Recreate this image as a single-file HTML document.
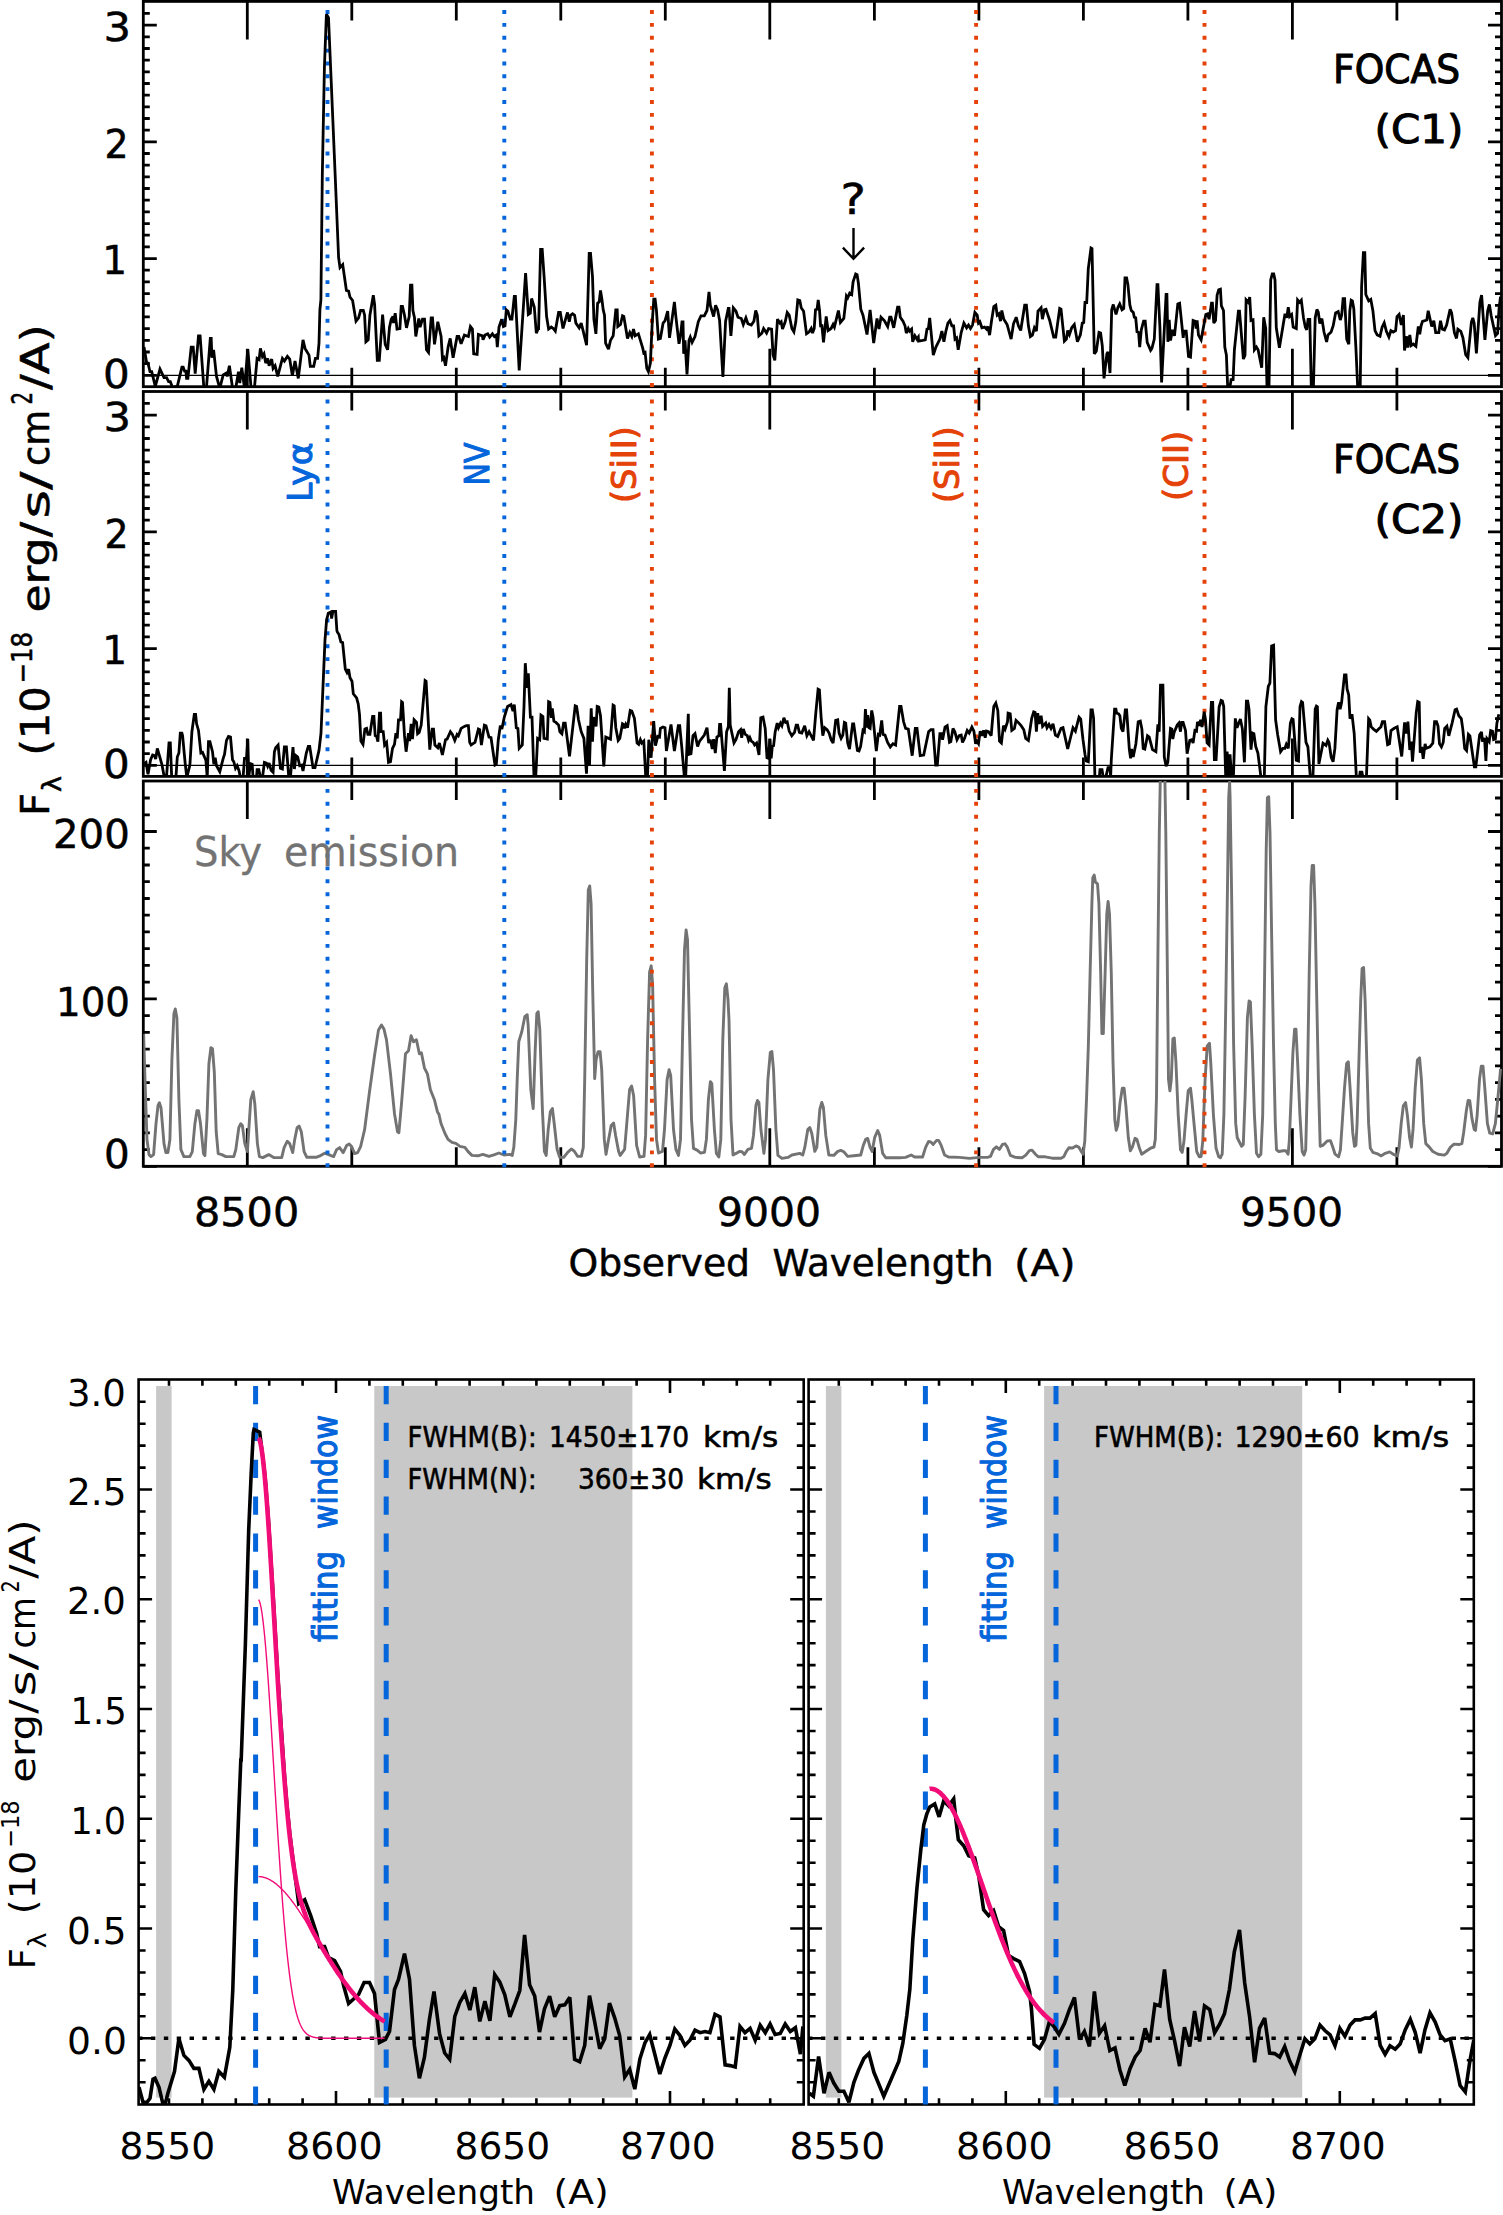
<!DOCTYPE html><html><head><meta charset="utf-8"><title>FOCAS spectra</title><style>html,body{margin:0;padding:0;background:#fff}svg{display:block}</style></head><body><svg width="1503" height="2215" viewBox="0 0 1503 2215" font-family="'DejaVu Sans','Liberation Sans',sans-serif">
<rect width="1503" height="2215" fill="#fff"/>
<defs>
<clipPath id="c0"><rect x="143.3" y="1.4" width="1360.2" height="385.3"/></clipPath>
<clipPath id="c1"><rect x="143.3" y="391.5" width="1360.2" height="384.9"/></clipPath>
<clipPath id="c2"><rect x="143.3" y="781.0" width="1360.2" height="385.3"/></clipPath>
<clipPath id="d0"><rect x="138.6" y="1379.5" width="665.1" height="725.0"/></clipPath>
<clipPath id="d1"><rect x="808.6" y="1379.5" width="665.2" height="725.0"/></clipPath>
</defs>
<rect x="143.3" y="1.4" width="1358.2" height="385.3" fill="none" stroke="#000" stroke-width="2.8"/>
<rect x="143.3" y="391.5" width="1358.2" height="384.9" fill="none" stroke="#000" stroke-width="2.8"/>
<rect x="143.3" y="781.0" width="1358.2" height="385.3" fill="none" stroke="#000" stroke-width="2.8"/>
<path d="M247.3 1.4L247.3 39.4M247.3 386.7L247.3 348.7M351.8 1.4L351.8 20.4M351.8 386.7L351.8 367.7M456.3 1.4L456.3 20.4M456.3 386.7L456.3 367.7M560.8 1.4L560.8 20.4M560.8 386.7L560.8 367.7M665.3 1.4L665.3 20.4M665.3 386.7L665.3 367.7M769.8 1.4L769.8 39.4M769.8 386.7L769.8 348.7M874.4 1.4L874.4 20.4M874.4 386.7L874.4 367.7M978.9 1.4L978.9 20.4M978.9 386.7L978.9 367.7M1083.4 1.4L1083.4 20.4M1083.4 386.7L1083.4 367.7M1187.9 1.4L1187.9 20.4M1187.9 386.7L1187.9 367.7M1292.4 1.4L1292.4 39.4M1292.4 386.7L1292.4 348.7M1396.9 1.4L1396.9 20.4M1396.9 386.7L1396.9 367.7M143.3 375.3L156.8 375.3M1501.5 375.3L1488.0 375.3M143.3 363.6L149.8 363.6M1501.5 363.6L1495.0 363.6M143.3 352.0L149.8 352.0M1501.5 352.0L1495.0 352.0M143.3 340.3L149.8 340.3M1501.5 340.3L1495.0 340.3M143.3 328.6L149.8 328.6M1501.5 328.6L1495.0 328.6M143.3 316.9L149.8 316.9M1501.5 316.9L1495.0 316.9M143.3 305.3L149.8 305.3M1501.5 305.3L1495.0 305.3M143.3 293.6L149.8 293.6M1501.5 293.6L1495.0 293.6M143.3 281.9L149.8 281.9M1501.5 281.9L1495.0 281.9M143.3 270.2L149.8 270.2M1501.5 270.2L1495.0 270.2M143.3 258.6L156.8 258.6M1501.5 258.6L1488.0 258.6M143.3 246.9L149.8 246.9M1501.5 246.9L1495.0 246.9M143.3 235.2L149.8 235.2M1501.5 235.2L1495.0 235.2M143.3 223.6L149.8 223.6M1501.5 223.6L1495.0 223.6M143.3 211.9L149.8 211.9M1501.5 211.9L1495.0 211.9M143.3 200.2L149.8 200.2M1501.5 200.2L1495.0 200.2M143.3 188.5L149.8 188.5M1501.5 188.5L1495.0 188.5M143.3 176.9L149.8 176.9M1501.5 176.9L1495.0 176.9M143.3 165.2L149.8 165.2M1501.5 165.2L1495.0 165.2M143.3 153.5L149.8 153.5M1501.5 153.5L1495.0 153.5M143.3 141.8L156.8 141.8M1501.5 141.8L1488.0 141.8M143.3 130.2L149.8 130.2M1501.5 130.2L1495.0 130.2M143.3 118.5L149.8 118.5M1501.5 118.5L1495.0 118.5M143.3 106.8L149.8 106.8M1501.5 106.8L1495.0 106.8M143.3 95.1L149.8 95.1M1501.5 95.1L1495.0 95.1M143.3 83.5L149.8 83.5M1501.5 83.5L1495.0 83.5M143.3 71.8L149.8 71.8M1501.5 71.8L1495.0 71.8M143.3 60.1L149.8 60.1M1501.5 60.1L1495.0 60.1M143.3 48.5L149.8 48.5M1501.5 48.5L1495.0 48.5M143.3 36.8L149.8 36.8M1501.5 36.8L1495.0 36.8M143.3 25.1L156.8 25.1M1501.5 25.1L1488.0 25.1M143.3 13.4L149.8 13.4M1501.5 13.4L1495.0 13.4M247.3 391.5L247.3 429.5M247.3 776.4L247.3 738.4M351.8 391.5L351.8 410.5M351.8 776.4L351.8 757.4M456.3 391.5L456.3 410.5M456.3 776.4L456.3 757.4M560.8 391.5L560.8 410.5M560.8 776.4L560.8 757.4M665.3 391.5L665.3 410.5M665.3 776.4L665.3 757.4M769.8 391.5L769.8 429.5M769.8 776.4L769.8 738.4M874.4 391.5L874.4 410.5M874.4 776.4L874.4 757.4M978.9 391.5L978.9 410.5M978.9 776.4L978.9 757.4M1083.4 391.5L1083.4 410.5M1083.4 776.4L1083.4 757.4M1187.9 391.5L1187.9 410.5M1187.9 776.4L1187.9 757.4M1292.4 391.5L1292.4 429.5M1292.4 776.4L1292.4 738.4M1396.9 391.5L1396.9 410.5M1396.9 776.4L1396.9 757.4M143.3 765.3L156.8 765.3M1501.5 765.3L1488.0 765.3M143.3 753.6L149.8 753.6M1501.5 753.6L1495.0 753.6M143.3 742.0L149.8 742.0M1501.5 742.0L1495.0 742.0M143.3 730.3L149.8 730.3M1501.5 730.3L1495.0 730.3M143.3 718.6L149.8 718.6M1501.5 718.6L1495.0 718.6M143.3 706.9L149.8 706.9M1501.5 706.9L1495.0 706.9M143.3 695.3L149.8 695.3M1501.5 695.3L1495.0 695.3M143.3 683.6L149.8 683.6M1501.5 683.6L1495.0 683.6M143.3 671.9L149.8 671.9M1501.5 671.9L1495.0 671.9M143.3 660.2L149.8 660.2M1501.5 660.2L1495.0 660.2M143.3 648.6L156.8 648.6M1501.5 648.6L1488.0 648.6M143.3 636.9L149.8 636.9M1501.5 636.9L1495.0 636.9M143.3 625.2L149.8 625.2M1501.5 625.2L1495.0 625.2M143.3 613.6L149.8 613.6M1501.5 613.6L1495.0 613.6M143.3 601.9L149.8 601.9M1501.5 601.9L1495.0 601.9M143.3 590.2L149.8 590.2M1501.5 590.2L1495.0 590.2M143.3 578.5L149.8 578.5M1501.5 578.5L1495.0 578.5M143.3 566.9L149.8 566.9M1501.5 566.9L1495.0 566.9M143.3 555.2L149.8 555.2M1501.5 555.2L1495.0 555.2M143.3 543.5L149.8 543.5M1501.5 543.5L1495.0 543.5M143.3 531.8L156.8 531.8M1501.5 531.8L1488.0 531.8M143.3 520.2L149.8 520.2M1501.5 520.2L1495.0 520.2M143.3 508.5L149.8 508.5M1501.5 508.5L1495.0 508.5M143.3 496.8L149.8 496.8M1501.5 496.8L1495.0 496.8M143.3 485.1L149.8 485.1M1501.5 485.1L1495.0 485.1M143.3 473.5L149.8 473.5M1501.5 473.5L1495.0 473.5M143.3 461.8L149.8 461.8M1501.5 461.8L1495.0 461.8M143.3 450.1L149.8 450.1M1501.5 450.1L1495.0 450.1M143.3 438.5L149.8 438.5M1501.5 438.5L1495.0 438.5M143.3 426.8L149.8 426.8M1501.5 426.8L1495.0 426.8M143.3 415.1L156.8 415.1M1501.5 415.1L1488.0 415.1M143.3 403.4L149.8 403.4M1501.5 403.4L1495.0 403.4M247.3 781.0L247.3 819.0M247.3 1166.3L247.3 1128.3M351.8 781.0L351.8 800.0M351.8 1166.3L351.8 1147.3M456.3 781.0L456.3 800.0M456.3 1166.3L456.3 1147.3M560.8 781.0L560.8 800.0M560.8 1166.3L560.8 1147.3M665.3 781.0L665.3 800.0M665.3 1166.3L665.3 1147.3M769.8 781.0L769.8 819.0M769.8 1166.3L769.8 1128.3M874.4 781.0L874.4 800.0M874.4 1166.3L874.4 1147.3M978.9 781.0L978.9 800.0M978.9 1166.3L978.9 1147.3M1083.4 781.0L1083.4 800.0M1083.4 1166.3L1083.4 1147.3M1187.9 781.0L1187.9 800.0M1187.9 1166.3L1187.9 1147.3M1292.4 781.0L1292.4 819.0M1292.4 1166.3L1292.4 1128.3M1396.9 781.0L1396.9 800.0M1396.9 1166.3L1396.9 1147.3M143.3 1166.3L156.8 1166.3M1501.5 1166.3L1488.0 1166.3M143.3 1149.6L149.8 1149.6M1501.5 1149.6L1495.0 1149.6M143.3 1132.8L149.8 1132.8M1501.5 1132.8L1495.0 1132.8M143.3 1116.1L149.8 1116.1M1501.5 1116.1L1495.0 1116.1M143.3 1099.3L149.8 1099.3M1501.5 1099.3L1495.0 1099.3M143.3 1082.6L149.8 1082.6M1501.5 1082.6L1495.0 1082.6M143.3 1065.9L149.8 1065.9M1501.5 1065.9L1495.0 1065.9M143.3 1049.1L149.8 1049.1M1501.5 1049.1L1495.0 1049.1M143.3 1032.4L149.8 1032.4M1501.5 1032.4L1495.0 1032.4M143.3 1015.6L149.8 1015.6M1501.5 1015.6L1495.0 1015.6M143.3 998.9L156.8 998.9M1501.5 998.9L1488.0 998.9M143.3 982.2L149.8 982.2M1501.5 982.2L1495.0 982.2M143.3 965.4L149.8 965.4M1501.5 965.4L1495.0 965.4M143.3 948.7L149.8 948.7M1501.5 948.7L1495.0 948.7M143.3 931.9L149.8 931.9M1501.5 931.9L1495.0 931.9M143.3 915.2L149.8 915.2M1501.5 915.2L1495.0 915.2M143.3 898.5L149.8 898.5M1501.5 898.5L1495.0 898.5M143.3 881.7L149.8 881.7M1501.5 881.7L1495.0 881.7M143.3 865.0L149.8 865.0M1501.5 865.0L1495.0 865.0M143.3 848.2L149.8 848.2M1501.5 848.2L1495.0 848.2M143.3 831.5L156.8 831.5M1501.5 831.5L1488.0 831.5M143.3 814.8L149.8 814.8M1501.5 814.8L1495.0 814.8M143.3 798.0L149.8 798.0M1501.5 798.0L1495.0 798.0" stroke="#000" stroke-width="2.8" fill="none"/>
<path d="M143.3 375.4H1501.5M143.3 765.4H1501.5" stroke="#000" stroke-width="1.2"/>
<line x1="327.5" y1="386.95" x2="327.5" y2="10.04" stroke="#0565db" stroke-width="3.9" stroke-dasharray="3.9 8.962"/>
<line x1="504.3" y1="386.95" x2="504.3" y2="10.04" stroke="#0565db" stroke-width="3.9" stroke-dasharray="3.9 8.962"/>
<line x1="651.9" y1="386.95" x2="651.9" y2="10.04" stroke="#e44208" stroke-width="3.9" stroke-dasharray="3.9 8.962"/>
<line x1="976.1" y1="386.95" x2="976.1" y2="10.04" stroke="#e44208" stroke-width="3.9" stroke-dasharray="3.9 8.962"/>
<line x1="1204.5" y1="386.95" x2="1204.5" y2="10.04" stroke="#e44208" stroke-width="3.9" stroke-dasharray="3.9 8.962"/>
<line x1="327.5" y1="776.95" x2="327.5" y2="399.52" stroke="#0565db" stroke-width="3.9" stroke-dasharray="3.9 8.980"/>
<line x1="504.3" y1="776.95" x2="504.3" y2="399.52" stroke="#0565db" stroke-width="3.9" stroke-dasharray="3.9 8.980"/>
<line x1="651.9" y1="776.95" x2="651.9" y2="399.52" stroke="#e44208" stroke-width="3.9" stroke-dasharray="3.9 8.980"/>
<line x1="976.1" y1="776.95" x2="976.1" y2="399.52" stroke="#e44208" stroke-width="3.9" stroke-dasharray="3.9 8.980"/>
<line x1="1204.5" y1="776.95" x2="1204.5" y2="399.52" stroke="#e44208" stroke-width="3.9" stroke-dasharray="3.9 8.980"/>
<polyline clip-path="url(#c0)" points="144.0,347.1 146.7,363.1 148.0,363.1 150.0,371.7 151.7,371.7 155.3,386.4 160.0,369.1 164.0,377.7 166.6,377.7 168.6,381.7 170.3,381.7 172.6,387.7 177.3,386.4 181.9,367.1 183.2,367.1 184.6,371.1 185.9,371.1 186.6,378.4 187.9,378.4 191.2,347.1 193.2,347.1 195.2,373.7 198.5,335.8 200.1,335.8 203.9,388.3 206.5,387.0 210.3,338.4 211.2,338.4 211.9,357.7 213.6,349.8 216.5,376.4 219.8,388.3 223.2,375.0 226.5,373.0 227.2,376.4 229.4,365.7 232.5,387.7 235.8,387.7 238.5,371.7 239.8,383.0 241.8,367.7 244.5,388.3 247.8,349.1 251.1,388.3 254.4,388.3 257.1,358.4 259.1,359.7 260.4,348.4 262.4,356.4 264.0,353.8 265.7,363.1 267.7,358.4 269.1,365.7 271.7,359.1 273.1,368.4 275.1,365.7 277.7,376.4 282.4,358.4 284.4,361.1 287.4,356.4 289.7,359.1 292.4,375.7 295.0,361.1 298.3,378.4 303.0,339.8 305.0,348.4 309.0,355.1 310.3,366.4 313.7,366.4 315.4,358.4 317.6,358.4 319.0,343.1 319.9,309.8 320.9,300.0 322.3,176.0 324.4,67.8 326.4,14.2 328.5,17.6 331.2,81.3 335.2,176.0 338.6,257.5 340.0,267.6 342.7,264.6 346.4,290.5 348.6,291.2 350.0,297.2 352.6,300.5 356.0,321.2 358.6,317.8 360.6,310.5 363.3,310.5 364.6,315.2 365.9,341.8 368.2,339.8 369.9,315.2 373.3,295.2 374.6,304.5 377.3,360.4 379.3,360.4 382.6,314.5 385.2,344.4 387.6,349.8 389.5,327.1 391.2,319.2 393.0,316.5 393.5,323.1 395.2,313.2 397.0,329.1 399.9,328.5 401.2,306.5 402.5,306.5 404.5,315.2 406.5,327.8 409.2,316.5 410.5,285.2 411.9,285.2 412.9,310.5 414.5,317.8 415.8,336.5 418.8,318.5 420.1,327.1 422.5,319.2 424.5,319.2 426.5,349.8 428.5,352.4 431.2,317.8 432.5,317.8 434.5,344.4 437.8,321.8 441.1,336.5 442.5,359.1 443.8,357.7 445.5,365.7 448.1,347.1 450.2,338.4 453.1,357.7 457.1,336.5 458.8,336.5 461.1,343.8 464.4,335.1 468.4,336.5 470.4,326.5 472.4,329.1 473.7,353.8 477.1,354.4 478.4,334.5 482.4,335.8 483.0,339.8 485.0,335.1 487.7,333.8 489.7,337.1 492.4,333.8 494.4,336.5 496.4,335.1 497.3,347.1 499.0,327.1 501.7,319.2 503.4,326.5 505.0,325.8 506.3,309.8 507.9,311.2 510.3,319.2 511.9,319.2 514.3,296.5 515.4,296.5 519.2,370.4 525.6,273.2 528.3,314.5 530.3,313.2 531.6,298.5 534.3,307.2 536.3,333.1 538.3,328.5 538.6,328.5 540.6,249.3 542.2,249.3 544.0,275.2 546.6,316.5 548.6,329.1 551.3,327.1 553.3,328.5 555.3,331.1 558.6,312.5 560.3,312.5 563.0,328.5 565.9,317.8 567.5,312.5 569.3,321.8 570.6,315.2 572.6,313.8 574.6,315.2 575.9,323.1 579.2,327.8 581.2,323.1 583.2,331.1 586.6,345.1 589.2,253.3 590.5,253.3 592.5,276.6 593.9,319.2 595.9,333.8 597.6,303.2 599.2,301.9 600.5,290.5 601.9,299.2 603.2,309.8 604.5,315.2 605.6,343.1 608.5,349.1 610.5,340.4 613.2,335.8 615.8,309.8 617.2,309.8 617.8,326.5 620.5,324.5 622.5,315.8 623.8,316.5 627.5,338.4 629.8,332.5 631.8,336.5 633.5,329.1 635.1,335.8 638.4,333.8 640.4,340.4 642.8,348.4 643.8,353.1 645.1,352.4 646.8,368.4 648.4,371.7 650.4,363.1 652.2,323.1 653.8,299.2 655.1,299.2 656.4,309.8 658.4,339.1 660.4,338.4 663.1,323.1 665.1,320.5 667.7,311.2 669.5,337.8 674.4,301.9 675.7,315.2 679.0,343.8 680.4,336.5 682.0,321.8 683.0,321.8 683.7,353.8 685.0,340.4 687.0,374.4 689.0,340.4 690.3,337.1 692.1,342.4 695.0,336.5 698.3,321.8 701.0,315.8 704.3,315.8 707.0,310.5 709.0,291.9 710.3,305.2 713.6,316.5 715.6,305.2 717.6,309.8 719.6,320.5 722.9,377.0 725.6,321.2 728.3,308.5 729.0,308.5 730.9,335.8 733.3,307.8 736.0,311.2 738.0,317.2 741.3,318.5 743.3,324.5 745.9,317.8 747.9,323.8 751.3,325.1 753.9,321.2 755.7,310.5 757.3,315.2 758.9,335.8 761.9,333.1 763.6,328.5 766.6,333.1 768.6,328.5 771.6,329.1 773.0,354.4 774.8,360.4 777.5,319.2 779.9,323.1 781.2,321.8 782.5,329.1 785.2,321.8 787.2,312.5 789.2,315.2 791.9,328.5 793.9,331.8 795.8,321.8 797.8,299.9 799.8,300.5 801.2,307.8 803.6,311.2 806.5,333.8 809.2,331.8 811.2,328.5 812.5,333.1 814.2,328.5 815.5,309.8 817.1,309.2 818.2,299.9 819.5,309.8 820.7,327.1 821.8,324.5 823.5,342.4 826.2,316.5 828.1,330.5 831.1,328.5 833.1,324.5 834.4,327.1 838.4,310.5 840.4,322.5 843.8,318.5 846.4,295.9 847.7,297.9 849.7,293.2 851.7,294.5 853.1,281.9 855.7,273.9 857.1,274.6 858.4,283.2 860.8,309.2 863.0,315.2 867.0,334.5 870.1,309.8 873.7,343.1 877.0,318.5 879.0,329.1 881.0,317.2 884.3,320.5 887.7,326.5 889.7,317.2 891.0,317.2 893.7,327.8 897.6,307.2 899.0,307.2 900.3,317.2 903.0,321.2 905.0,325.8 906.3,333.1 908.3,328.5 909.6,331.1 911.6,329.1 912.7,341.8 914.9,335.8 916.9,339.1 918.3,337.1 918.6,341.1 922.6,340.4 925.3,339.8 927.0,329.1 928.4,328.5 929.7,317.8 931.0,331.1 933.3,355.1 935.9,347.1 939.9,339.1 941.9,331.1 943.9,341.8 945.9,331.1 947.9,323.1 949.9,320.5 951.9,325.8 953.6,325.8 955.0,339.1 956.6,337.8 958.2,349.8 961.2,332.5 963.9,323.1 966.6,327.8 968.5,325.1 970.5,328.5 972.5,325.1 974.9,312.5 977.2,315.2 978.5,323.1 979.9,321.8 981.9,327.8 984.5,327.1 986.5,329.1 987.8,326.5 989.6,335.1 991.4,321.8 993.8,306.5 995.8,305.2 997.2,315.2 998.9,313.8 1000.5,321.2 1001.8,310.5 1003.8,319.2 1007.1,324.5 1011.1,339.1 1013.5,323.8 1016.2,317.2 1018.4,325.8 1020.7,330.5 1024.7,305.2 1026.4,305.2 1028.4,325.8 1030.4,336.5 1032.4,335.1 1034.4,327.8 1036.4,331.1 1038.0,311.2 1041.1,307.8 1042.4,319.2 1044.4,309.8 1046.0,309.2 1049.7,320.5 1053.7,337.1 1055.7,337.1 1059.7,308.5 1061.0,309.2 1064.4,341.1 1066.4,339.1 1067.7,330.5 1069.4,334.5 1071.7,327.8 1074.3,324.5 1077.4,341.8 1080.3,335.1 1082.3,323.1 1083.7,322.5 1085.0,302.5 1086.7,302.5 1088.3,268.6 1091.0,248.0 1092.0,248.6 1094.3,353.8 1096.3,351.1 1099.0,332.5 1100.6,333.1 1102.3,345.8 1104.0,378.4 1106.9,353.8 1108.0,351.8 1110.0,373.0 1111.7,309.8 1113.3,304.5 1116.0,314.5 1118.0,307.2 1119.7,303.9 1122.0,309.8 1123.7,308.5 1125.0,277.9 1126.6,277.9 1127.9,284.6 1129.9,305.2 1131.3,310.5 1133.3,312.5 1134.3,317.2 1135.7,317.8 1137.0,331.8 1138.6,332.5 1139.7,347.1 1141.3,329.8 1143.6,321.2 1145.2,321.2 1147.2,342.4 1150.6,350.4 1151.9,348.4 1154.3,339.1 1157.0,284.6 1157.9,284.6 1159.9,327.1 1161.6,382.4 1166.1,294.5 1166.9,294.5 1167.9,341.8 1169.2,319.8 1170.5,340.4 1172.5,329.8 1174.5,335.8 1177.8,303.9 1179.6,303.2 1183.2,337.8 1184.1,331.1 1186.2,331.1 1188.5,356.4 1190.5,357.1 1193.1,320.5 1195.1,321.2 1196.1,328.5 1197.1,320.5 1198.5,335.1 1201.1,339.8 1205.8,314.5 1207.5,313.8 1209.1,319.2 1211.5,303.2 1212.4,303.2 1213.8,323.1 1215.5,320.5 1217.1,295.2 1218.7,289.9 1220.4,289.2 1221.4,305.8 1223.5,310.5 1224.8,347.1 1226.4,355.1 1227.7,387.7 1229.7,388.3 1231.1,379.7 1233.1,379.7 1234.4,349.8 1238.4,311.2 1239.5,311.2 1243.4,359.1 1245.0,355.1 1246.1,299.9 1248.4,302.5 1249.7,297.2 1251.0,320.5 1253.0,319.8 1254.4,349.8 1256.4,347.1 1258.1,349.8 1261.7,367.7 1263.7,317.2 1265.7,328.5 1267.0,388.3 1269.0,388.3 1270.7,279.9 1272.3,273.9 1273.7,273.9 1275.0,279.9 1276.3,327.8 1279.4,347.8 1285.0,313.8 1286.7,317.8 1288.3,307.2 1289.6,316.5 1291.6,314.5 1293.2,327.1 1296.3,328.5 1297.6,299.9 1299.6,302.3 1301.3,300.2 1303.5,317.9 1305.3,327.1 1306.7,329.9 1308.1,319.3 1309.8,319.3 1311.3,388.0 1313.4,388.0 1315.2,317.9 1316.9,309.4 1318.3,312.2 1319.8,323.5 1321.9,318.6 1324.0,332.0 1326.6,342.0 1328.0,334.9 1331.1,332.0 1333.2,325.7 1335.6,312.9 1338.2,311.5 1340.3,320.0 1341.7,315.0 1343.1,298.7 1344.6,298.7 1346.7,339.1 1348.8,344.1 1349.8,310.8 1351.2,300.2 1352.4,300.9 1353.8,308.7 1355.9,347.6 1357.7,388.0 1360.2,388.0 1361.6,286.7 1363.4,252.7 1364.8,252.7 1365.8,294.5 1368.7,300.9 1370.8,299.4 1372.9,310.8 1375.0,330.6 1377.2,334.9 1380.0,336.3 1382.1,327.1 1384.2,322.8 1386.4,331.3 1388.9,337.0 1390.9,330.6 1393.2,332.0 1395.6,330.6 1397.0,316.5 1399.1,314.3 1401.3,325.0 1403.4,315.0 1404.5,350.5 1406.9,336.3 1407.9,347.6 1409.8,334.9 1411.2,345.5 1413.3,344.1 1415.9,346.2 1418.3,326.4 1419.7,334.2 1421.1,325.7 1422.5,321.4 1426.8,320.0 1428.2,310.8 1431.7,326.4 1433.8,320.7 1435.7,332.7 1438.8,332.7 1440.5,320.7 1442.4,329.2 1444.5,329.9 1446.6,325.0 1450.1,309.4 1451.6,312.9 1454.4,332.7 1456.5,338.4 1457.9,329.2 1460.8,331.3 1462.9,337.7 1465.7,354.7 1467.9,357.6 1471.4,322.1 1472.8,317.9 1474.2,323.5 1476.4,353.3 1479.9,302.3 1481.6,295.2 1484.9,339.8 1487.7,310.8 1489.4,304.4 1491.2,315.7 1495.5,335.6 1497.6,333.5 1499.0,309.4 1500.5,296.6" fill="none" stroke="#000" stroke-width="2.8" stroke-linejoin="miter" stroke-miterlimit="3"/>
<polyline clip-path="url(#c1)" points="144.0,763.7 146.0,762.3 148.0,774.3 150.6,759.7 152.6,755.0 154.4,755.7 155.7,759.0 157.3,748.4 160.0,757.7 162.0,765.0 164.0,775.6 166.6,775.6 169.0,743.0 170.3,743.0 171.7,777.6 175.9,777.6 177.3,757.0 178.9,753.0 180.3,733.1 181.9,733.1 182.6,735.7 185.2,763.7 186.8,777.6 189.9,765.0 191.9,731.7 194.3,714.4 195.6,714.4 196.6,723.8 198.5,730.4 200.9,753.0 202.5,752.4 205.9,760.3 207.2,777.6 208.5,741.7 209.9,741.7 212.5,751.7 213.9,764.3 215.2,757.7 216.5,765.7 219.8,771.7 223.2,758.3 224.5,754.4 226.5,740.4 228.5,736.4 230.5,737.1 232.5,759.7 233.8,761.7 235.5,768.3 237.1,765.7 239.1,771.0 240.5,778.3 243.1,777.0 244.5,758.3 246.5,758.3 247.8,739.1 248.8,777.0 250.4,763.7 252.2,764.3 253.1,778.3 256.4,778.3 257.1,769.7 258.8,769.7 260.4,777.0 262.4,778.3 264.4,762.3 266.4,763.0 267.7,766.3 269.1,763.0 271.1,770.3 273.1,772.3 274.4,751.7 275.7,747.7 278.1,745.0 280.4,768.3 282.4,769.0 284.4,747.0 286.4,747.0 288.8,777.6 290.4,777.6 293.0,747.0 294.4,769.0 296.0,755.7 297.7,757.0 299.7,765.7 301.7,765.0 303.0,771.0 306.3,753.0 308.3,746.4 309.7,746.4 313.0,767.7 315.0,767.7 319.0,750.4 321.0,733.1 323.0,686.5 325.0,639.9 326.6,620.0 328.3,613.3 331.0,612.0 331.6,618.6 332.9,611.3 335.6,611.3 336.9,630.6 337.3,631.9 339.0,634.6 340.9,641.9 342.6,642.6 345.3,669.2 347.0,672.5 348.6,669.2 350.0,677.8 352.0,681.2 353.3,693.8 356.6,697.8 358.2,703.8 359.5,714.4 360.9,741.1 363.0,744.4 364.9,729.1 366.6,728.4 367.9,734.4 369.9,734.4 372.6,716.4 373.9,716.4 375.2,735.7 376.6,736.4 377.9,741.7 379.5,713.1 380.6,713.1 381.2,731.7 383.2,731.7 384.6,745.0 386.6,742.4 388.5,762.3 390.5,761.7 392.5,748.4 394.5,744.4 395.9,733.1 397.2,738.4 398.5,719.8 400.5,719.8 401.6,701.8 402.5,702.5 404.5,735.7 406.1,751.7 408.5,733.1 409.6,741.1 411.2,723.8 412.5,739.1 414.1,719.8 416.5,722.4 417.6,733.7 419.2,732.4 421.2,725.1 425.1,680.5 426.1,681.2 429.8,749.7 432.2,729.1 433.5,729.1 434.9,745.0 437.8,747.7 439.4,743.0 442.4,755.0 445.5,739.7 447.1,739.1 450.4,731.7 452.4,734.4 454.8,740.4 457.1,734.4 458.4,735.7 461.1,728.4 464.4,726.4 466.4,725.7 468.4,725.7 469.7,742.4 471.1,745.0 473.0,743.7 475.0,742.4 478.4,729.1 479.7,729.7 481.4,745.0 484.4,725.1 486.0,725.7 489.0,737.1 491.0,737.7 495.0,765.0 496.3,764.3 498.3,739.7 500.3,725.7 501.9,729.1 504.3,717.1 507.6,706.5 511.0,704.5 513.0,711.1 514.3,704.5 516.3,727.7 517.9,728.4 519.2,748.4 522.3,745.0 524.0,706.5 525.3,663.2 526.9,687.8 528.3,673.2 530.4,717.1 532.0,717.1 534.0,777.6 535.7,777.6 537.6,738.4 539.7,739.7 541.0,715.1 542.9,716.4 544.0,738.4 547.3,739.1 548.6,701.8 549.9,702.5 551.3,717.8 552.3,708.4 553.9,721.1 555.9,722.4 558.6,725.1 559.9,731.7 561.9,733.7 563.6,723.1 565.2,723.1 569.5,756.4 575.2,705.8 576.6,706.5 578.5,719.8 581.2,731.7 583.9,738.4 586.5,773.7 588.1,725.7 589.5,765.7 591.2,708.4 592.5,741.7 593.6,717.1 596.1,726.4 597.2,706.5 598.8,707.1 600.5,715.8 603.8,766.3 605.8,737.1 610.5,739.1 613.1,705.1 614.2,705.8 615.8,727.7 618.2,740.4 619.8,738.4 622.5,723.8 623.5,724.4 624.5,728.4 625.8,724.4 627.5,727.7 630.2,710.4 631.8,711.1 634.4,718.4 637.1,743.0 638.7,744.4 640.4,739.7 641.8,743.0 643.8,741.1 645.7,776.3 647.5,776.3 648.8,739.7 651.1,757.7 653.7,721.1 655.5,745.7 657.7,736.4 659.5,737.1 660.4,728.4 663.0,727.1 665.0,727.7 666.4,751.0 671.0,724.4 674.4,751.0 678.3,725.7 679.7,725.7 681.7,746.4 684.3,776.3 685.7,776.3 688.3,713.8 689.0,754.4 691.0,753.7 693.0,735.7 695.0,733.7 697.6,746.4 699.6,741.1 704.3,735.1 707.0,727.7 708.7,743.0 710.3,739.7 712.3,749.0 713.6,739.1 715.3,753.0 716.9,737.1 718.9,735.7 719.6,724.4 720.6,724.4 724.4,771.0 726.6,731.7 728.4,726.4 729.3,687.8 730.2,725.1 734.0,743.0 735.9,739.7 738.6,731.7 740.6,729.7 741.7,737.7 743.3,729.1 745.3,734.4 747.3,735.7 748.6,740.4 749.9,737.7 751.3,741.1 753.2,742.4 754.6,745.0 756.6,743.0 759.0,755.0 760.8,717.8 763.0,717.1 765.2,728.4 767.0,757.7 768.5,758.3 769.9,739.1 771.2,758.3 772.3,746.4 773.6,745.7 775.2,731.7 777.2,723.1 778.5,727.7 780.5,723.1 781.9,725.7 783.9,717.8 785.6,722.4 787.2,721.8 789.2,731.1 791.8,735.7 794.5,732.4 796.2,725.1 797.6,725.1 799.4,732.4 801.8,733.1 804.7,725.7 806.9,735.7 809.1,731.7 811.1,735.7 813.5,740.4 815.8,713.1 818.1,689.2 819.4,689.8 821.1,717.1 822.8,735.7 824.7,727.7 827.1,729.7 829.1,733.1 831.1,739.7 833.1,743.0 835.7,720.4 837.7,719.8 839.1,733.1 841.1,738.4 842.8,735.1 844.4,722.4 845.7,723.1 847.7,743.0 849.5,749.0 852.6,723.8 853.7,723.8 855.7,738.4 857.4,750.4 859.0,751.0 860.6,746.4 863.0,730.4 864.4,731.7 865.4,709.1 866.8,727.7 867.7,715.1 869.0,727.7 870.1,728.4 871.7,710.4 873.0,717.1 876.3,751.0 878.3,734.4 879.7,735.1 881.7,720.4 883.0,734.4 885.0,735.1 887.6,742.4 890.3,747.0 893.0,743.7 895.6,745.0 899.6,706.5 901.0,706.5 903.6,721.8 905.6,728.4 908.3,729.1 912.2,755.7 915.3,728.4 917.0,728.4 920.2,755.7 923.7,755.0 928.6,731.7 930.9,729.7 933.0,729.7 935.7,765.0 937.3,765.0 939.9,733.7 941.5,733.7 942.6,739.7 945.0,727.1 947.2,725.7 949.5,742.4 950.8,741.7 953.0,728.4 954.8,731.7 957.0,739.7 959.2,735.7 961.2,735.1 962.5,742.4 964.5,738.4 967.2,730.4 969.2,733.1 971.9,727.1 973.9,731.1 975.6,743.7 976.9,741.1 978.5,743.7 980.2,731.1 981.8,735.7 983.6,730.4 985.2,737.7 986.5,731.1 988.5,731.7 991.2,735.7 992.5,719.8 993.8,706.5 995.8,703.1 997.8,710.4 999.5,741.1 1001.4,743.0 1003.5,725.7 1005.1,729.1 1007.5,721.8 1008.1,713.1 1010.2,713.8 1011.8,730.4 1014.4,728.4 1016.0,720.4 1018.2,722.4 1021.1,725.7 1023.8,729.7 1025.7,738.4 1028.4,740.4 1031.7,718.4 1033.7,711.8 1035.1,712.4 1036.4,731.7 1037.7,713.1 1039.1,723.8 1041.1,715.8 1042.6,726.4 1045.7,723.1 1047.0,727.7 1049.0,724.4 1051.0,728.4 1053.0,723.8 1055.4,735.1 1057.7,736.4 1061.0,728.4 1063.0,727.7 1067.7,749.0 1073.0,727.7 1075.4,731.1 1079.0,717.1 1080.7,719.1 1083.0,739.7 1085.0,754.4 1086.3,761.0 1088.3,761.7 1091.0,709.8 1092.3,709.8 1093.6,718.4 1094.9,777.6 1096.9,777.6 1099.3,777.6 1100.0,769.7 1102.0,769.7 1103.3,777.6 1105.7,777.6 1108.0,767.7 1110.0,767.7 1110.6,777.6 1111.3,759.7 1114.6,709.1 1115.9,709.1 1116.6,713.1 1118.6,713.8 1119.9,715.8 1121.3,728.4 1123.0,731.7 1125.3,709.8 1126.6,709.8 1129.3,749.0 1130.6,758.3 1131.5,749.0 1133.2,757.0 1135.9,743.7 1138.2,721.8 1140.3,721.1 1141.9,729.1 1143.2,748.4 1144.8,749.0 1147.5,735.7 1149.2,737.1 1152.5,749.7 1155.9,751.7 1157.9,724.4 1159.2,731.7 1160.5,685.2 1162.9,685.2 1164.3,757.0 1166.1,766.3 1167.8,762.3 1170.5,728.4 1171.8,729.1 1172.8,739.1 1174.1,732.4 1177.2,725.1 1178.9,723.1 1180.5,731.7 1181.6,722.4 1183.1,722.4 1185.5,730.4 1187.1,753.7 1189.8,740.4 1191.8,739.7 1193.1,743.0 1194.9,730.4 1196.5,731.1 1197.5,721.8 1199.1,725.7 1200.7,719.8 1202.0,727.1 1204.2,711.8 1205.5,719.8 1207.1,743.0 1209.1,745.0 1211.4,702.5 1212.7,702.5 1214.4,759.7 1216.1,759.7 1219.1,707.1 1221.1,700.5 1222.4,701.1 1223.7,706.5 1225.7,777.6 1227.1,751.7 1228.7,777.6 1230.0,754.4 1231.7,777.6 1233.4,777.6 1235.3,718.4 1237.0,727.7 1240.4,719.1 1242.4,729.1 1244.4,762.3 1246.4,701.1 1247.7,701.1 1249.0,709.1 1251.0,749.7 1252.6,733.1 1253.9,733.7 1255.7,746.4 1257.9,753.0 1261.0,777.6 1264.3,777.6 1265.9,706.5 1268.3,686.5 1269.9,683.2 1271.6,645.9 1273.6,645.2 1275.6,719.8 1277.6,734.4 1280.6,751.7 1282.9,748.4 1284.9,748.4 1286.3,744.4 1288.3,748.4 1290.4,723.1 1291.9,718.7 1293.1,719.4 1296.3,760.2 1298.5,761.0 1300.0,706.8 1301.5,701.6 1302.6,702.4 1306.0,742.4 1307.9,746.9 1310.4,778.0 1312.9,778.0 1315.2,709.1 1316.4,706.1 1317.4,706.8 1318.9,763.9 1323.0,743.2 1326.0,745.4 1327.8,740.2 1329.0,742.4 1331.2,757.3 1333.1,761.7 1334.9,748.4 1337.1,709.8 1338.6,702.4 1340.1,709.1 1341.6,702.4 1344.5,674.9 1346.0,674.9 1347.1,689.0 1348.7,695.0 1350.0,718.7 1352.0,714.2 1354.2,733.5 1356.4,778.0 1359.4,778.0 1360.1,772.1 1361.9,772.1 1363.1,778.0 1366.4,778.0 1368.6,718.7 1369.8,720.2 1371.2,726.9 1373.5,729.1 1376.4,731.3 1379.4,728.3 1380.9,726.9 1382.4,721.7 1384.6,721.7 1387.6,744.7 1389.5,743.9 1391.0,730.6 1394.2,728.3 1397.2,726.9 1401.7,756.5 1404.6,722.4 1406.1,733.5 1407.9,721.7 1409.8,749.9 1411.3,741.7 1412.5,761.7 1416.2,712.8 1417.7,701.6 1419.2,702.4 1420.2,752.8 1421.7,746.9 1423.2,758.8 1425.1,743.9 1426.1,748.4 1429.9,746.9 1432.8,743.2 1434.6,721.7 1436.5,721.7 1438.0,726.1 1439.5,743.9 1441.4,746.9 1443.2,742.4 1444.7,728.3 1446.9,726.1 1448.8,735.8 1452.1,723.1 1455.1,709.8 1456.6,709.1 1458.8,715.7 1461.3,718.7 1462.8,729.1 1464.7,748.4 1466.6,750.6 1468.4,734.3 1469.9,735.8 1474.4,766.9 1475.8,766.9 1479.6,735.0 1481.5,732.0 1482.5,741.7 1484.5,738.0 1485.9,761.0 1487.0,738.7 1489.2,741.7 1490.7,730.6 1492.5,731.3 1493.6,739.5 1495.4,738.7 1496.9,723.1 1498.8,714.2" fill="none" stroke="#000" stroke-width="2.8" stroke-linejoin="miter" stroke-miterlimit="3"/>
<polyline clip-path="url(#c2)" points="143.6,1033.9 145.0,1079.8 147.0,1139.6 149.0,1154.6 151.0,1156.6 153.6,1154.6 156.0,1123.7 158.0,1105.7 159.4,1102.7 161.0,1107.7 164.0,1143.6 165.9,1152.6 167.9,1152.6 169.9,1139.6 171.9,1059.8 173.9,1013.9 175.3,1008.9 176.9,1017.9 178.9,1099.7 180.9,1149.6 183.9,1156.6 189.9,1156.6 192.3,1151.6 194.9,1123.7 196.9,1110.7 198.5,1110.7 200.5,1123.7 203.5,1153.6 204.9,1155.6 206.9,1119.7 208.9,1063.8 210.9,1047.8 212.5,1048.8 214.3,1071.8 216.2,1131.7 218.2,1153.6 221.8,1154.6 225.8,1156.6 233.8,1156.6 235.8,1149.6 238.8,1127.7 240.8,1123.7 242.4,1125.7 244.8,1143.6 247.4,1151.6 248.8,1129.7 250.8,1099.7 253.2,1091.7 254.8,1103.7 257.4,1143.6 259.4,1156.6 262.8,1157.6 268.7,1154.6 273.7,1157.6 281.7,1157.6 284.1,1147.6 287.3,1141.2 289.7,1143.6 292.7,1152.6 294.7,1139.6 297.1,1127.7 299.1,1126.1 301.3,1131.7 304.1,1151.6 306.7,1157.2 316.6,1157.2 320.6,1155.6 324.6,1153.2 328.6,1154.6 333.6,1156.6 336.6,1149.6 339.6,1147.6 343.2,1152.6 346.6,1145.6 349.2,1144.0 351.6,1146.6 354.6,1153.6 357.6,1152.6 360.6,1146.6 364.6,1129.7 369.5,1091.7 374.5,1055.8 378.5,1029.9 381.5,1024.9 383.9,1028.9 386.5,1039.8 390.5,1073.8 394.5,1113.7 397.5,1131.7 398.9,1132.7 401.5,1103.7 405.5,1053.8 408.5,1050.8 411.1,1035.8 413.5,1041.8 416.4,1039.8 419.4,1053.8 421.4,1052.8 424.4,1067.8 427.4,1073.8 430.4,1089.7 434.4,1099.7 437.4,1111.7 439.0,1114.5 441.0,1123.5 445.0,1133.5 448.0,1139.4 452.0,1142.4 455.9,1143.4 459.9,1146.4 464.9,1147.4 467.9,1151.4 471.9,1155.4 477.9,1155.8 482.9,1154.4 488.9,1156.4 493.9,1154.8 498.9,1153.0 503.9,1155.0 509.8,1154.4 512.2,1155.4 513.8,1147.4 515.8,1119.5 517.2,1079.6 518.8,1041.6 521.8,1031.7 524.8,1016.7 527.2,1014.7 528.2,1025.7 530.8,1089.5 533.2,1108.5 535.2,1049.6 536.8,1013.7 538.2,1011.7 539.8,1029.7 542.4,1109.5 544.4,1151.4 546.2,1155.4 548.2,1129.5 550.4,1111.5 552.4,1108.5 554.2,1123.5 557.1,1149.4 559.7,1157.4 563.7,1157.4 567.7,1152.4 571.3,1149.0 574.1,1151.0 577.7,1156.4 581.3,1156.4 583.3,1147.4 584.7,1079.6 586.7,959.8 588.3,889.9 589.7,885.9 591.1,903.9 592.7,989.7 594.7,1078.6 596.1,1059.6 598.1,1051.6 600.1,1051.6 601.7,1069.6 604.3,1139.4 606.0,1154.4 608.6,1139.4 611.2,1125.5 613.6,1123.1 615.6,1135.4 618.6,1151.4 620.2,1155.4 624.6,1149.4 626.6,1125.5 629.6,1089.5 631.6,1086.1 633.6,1095.5 636.6,1145.4 639.6,1157.0 644.0,1156.4 645.6,1135.4 647.6,1039.6 649.6,971.8 651.2,965.8 652.6,983.8 654.6,1079.6 656.5,1139.4 658.5,1153.0 662.5,1151.4 664.5,1129.5 667.1,1079.6 669.1,1069.6 670.7,1075.6 673.5,1129.5 675.9,1149.4 678.5,1155.4 680.5,1139.4 682.5,1039.6 684.5,949.8 686.1,929.9 687.5,939.8 689.5,1029.7 691.5,1119.5 693.5,1148.4 697.5,1150.4 700.5,1153.0 704.5,1152.4 706.4,1139.4 708.4,1099.5 710.4,1081.6 711.8,1083.6 714.4,1129.5 716.4,1153.4 718.8,1157.0 720.8,1139.4 722.8,1039.6 724.8,987.7 726.4,983.8 728.0,999.7 729.0,1019.7 731.0,1119.5 733.0,1155.0 736.0,1153.4 739.4,1151.4 742.0,1151.8 744.4,1154.4 747.9,1149.4 751.5,1148.4 753.5,1135.4 755.9,1105.5 757.5,1100.5 758.9,1102.5 760.9,1129.5 763.9,1153.4 765.5,1139.4 767.9,1079.6 770.3,1052.6 771.9,1051.6 773.5,1069.6 775.9,1129.5 777.9,1155.4 781.9,1158.4 787.9,1157.4 791.9,1155.0 799.8,1153.4 802.8,1155.0 804.8,1147.4 807.8,1129.5 809.8,1127.5 811.8,1133.5 814.8,1151.4 816.8,1147.4 819.8,1109.5 821.8,1102.5 823.4,1107.5 825.8,1135.4 828.8,1155.0 833.8,1155.4 837.8,1151.4 840.8,1150.4 843.8,1151.8 847.7,1156.4 853.7,1155.8 860.7,1155.0 863.3,1145.4 865.7,1139.4 867.7,1138.4 870.1,1147.4 872.1,1151.4 874.7,1137.4 877.7,1130.5 879.7,1135.4 882.7,1153.4 885.7,1157.8 899.6,1157.8 905.6,1157.4 911.2,1155.0 914.6,1157.0 922.6,1157.0 925.6,1147.4 928.6,1141.4 930.6,1141.8 933.2,1144.4 936.6,1140.4 938.6,1140.4 941.2,1145.4 944.6,1155.0 948.5,1157.0 959.5,1157.4 969.5,1158.4 979.5,1157.4 987.5,1157.4 990.5,1156.4 993.5,1149.4 996.4,1146.8 999.4,1149.4 1002.4,1144.4 1005.0,1143.8 1007.4,1147.4 1010.4,1155.4 1015.4,1157.4 1022.3,1157.7 1025.8,1155.1 1029.4,1150.7 1032.0,1150.1 1035.5,1154.2 1038.2,1156.8 1045.2,1156.8 1052.3,1158.2 1061.1,1158.2 1063.7,1156.8 1066.3,1151.5 1069.0,1147.7 1072.5,1148.0 1076.0,1145.9 1078.7,1147.1 1081.3,1151.5 1083.1,1154.2 1084.8,1141.0 1086.6,1097.0 1088.4,1044.1 1090.1,973.7 1091.9,903.3 1092.8,877.7 1094.2,875.1 1095.4,882.1 1097.5,883.9 1098.9,903.3 1100.7,973.7 1101.9,1033.6 1103.3,1033.6 1105.1,973.7 1106.8,913.8 1108.1,901.5 1109.5,913.8 1111.3,973.7 1113.0,1061.7 1114.8,1119.8 1116.2,1130.4 1117.8,1125.1 1120.1,1102.2 1122.3,1088.2 1124.1,1088.2 1125.9,1105.8 1128.3,1137.5 1130.3,1150.7 1132.4,1147.1 1135.0,1138.3 1136.8,1139.2 1139.4,1148.0 1141.7,1154.2 1145.6,1151.5 1150.9,1148.0 1154.0,1147.1 1155.3,1139.2 1156.5,1097.0 1157.9,956.1 1159.3,832.8 1160.6,762.4 1161.4,727.2 1163.5,727.2 1164.6,762.4 1165.8,832.8 1167.2,956.1 1168.5,1079.3 1169.9,1090.8 1171.3,1079.3 1172.9,1038.8 1174.3,1038.0 1175.9,1061.7 1178.2,1114.6 1180.5,1149.8 1182.2,1152.4 1184.0,1141.0 1186.1,1114.6 1188.2,1090.8 1190.5,1088.2 1191.9,1100.5 1194.0,1123.4 1196.7,1151.5 1199.3,1156.8 1201.1,1156.5 1202.8,1141.0 1205.1,1079.3 1207.2,1045.9 1209.5,1043.3 1210.7,1061.7 1213.4,1114.6 1216.0,1148.0 1218.7,1156.8 1220.4,1157.7 1222.2,1154.2 1223.9,1114.6 1225.7,1008.9 1227.5,885.7 1228.7,797.6 1229.6,781.8 1230.1,797.6 1231.5,885.7 1233.6,1044.1 1235.7,1123.4 1237.2,1137.5 1238.9,1141.0 1241.6,1146.3 1243.3,1144.5 1245.1,1097.0 1247.4,1017.7 1249.1,1001.0 1250.4,1001.9 1252.1,1044.1 1254.4,1114.6 1256.5,1153.3 1258.6,1156.8 1260.9,1154.2 1262.7,1114.6 1264.4,991.3 1266.2,850.4 1267.4,797.6 1268.7,796.7 1270.0,832.8 1271.7,938.5 1273.5,1044.1 1275.3,1123.4 1276.5,1149.8 1278.8,1151.5 1283.2,1150.7 1285.8,1150.7 1288.1,1154.2 1289.3,1141.0 1291.1,1097.0 1292.9,1052.9 1294.6,1029.2 1296.0,1029.2 1297.6,1061.7 1299.9,1114.6 1302.2,1151.5 1304.0,1155.1 1305.7,1149.8 1307.5,1079.3 1309.2,973.7 1311.0,885.7 1312.2,865.4 1313.6,865.4 1314.9,903.3 1316.6,991.3 1318.4,1079.3 1320.2,1146.3 1322.8,1145.4 1327.2,1141.0 1330.4,1140.6 1332.5,1146.3 1335.1,1154.2 1338.6,1156.8 1340.4,1149.8 1342.2,1123.4 1344.5,1088.2 1346.6,1063.5 1348.3,1061.7 1350.1,1088.2 1352.7,1132.2 1354.5,1146.3 1355.9,1145.4 1357.1,1123.4 1358.9,1061.7 1360.7,1000.1 1362.1,968.4 1363.6,967.5 1365.1,1000.1 1366.8,1061.7 1368.6,1123.4 1370.3,1148.0 1373.0,1152.4 1378.3,1154.2 1380.9,1155.9 1385.3,1153.3 1389.7,1151.9 1394.1,1154.7 1397.3,1155.9 1399.0,1148.0 1401.2,1123.4 1403.3,1105.8 1405.6,1102.6 1407.3,1114.6 1409.6,1137.5 1411.4,1147.1 1413.1,1128.7 1415.2,1088.2 1417.4,1060.0 1419.6,1057.9 1421.4,1079.3 1423.7,1123.4 1425.8,1143.6 1429.3,1147.1 1432.8,1151.5 1438.1,1154.2 1444.3,1155.1 1446.9,1153.3 1450.5,1147.1 1454.0,1144.1 1459.3,1144.5 1461.9,1143.6 1463.7,1132.2 1466.3,1111.0 1468.1,1100.5 1469.8,1100.8 1471.9,1118.1 1474.2,1129.5 1475.5,1130.4 1477.2,1114.6 1479.5,1079.3 1481.3,1066.1 1483.0,1066.1 1484.8,1088.2 1487.4,1123.4 1489.7,1133.1 1492.7,1133.9 1495.4,1123.4 1498.0,1097.0 1500.6,1068.8" fill="none" stroke="#737373" stroke-width="2.9" stroke-linejoin="round"/>
<line x1="327.5" y1="1167.25" x2="327.5" y2="788.95" stroke="#0565db" stroke-width="3.9" stroke-dasharray="3.9 9.010"/>
<line x1="504.3" y1="1167.25" x2="504.3" y2="788.95" stroke="#0565db" stroke-width="3.9" stroke-dasharray="3.9 9.010"/>
<line x1="651.9" y1="1167.25" x2="651.9" y2="788.95" stroke="#e44208" stroke-width="3.9" stroke-dasharray="3.9 9.010"/>
<line x1="976.1" y1="1167.25" x2="976.1" y2="788.95" stroke="#e44208" stroke-width="3.9" stroke-dasharray="3.9 9.010"/>
<line x1="1204.5" y1="1167.25" x2="1204.5" y2="788.95" stroke="#e44208" stroke-width="3.9" stroke-dasharray="3.9 9.010"/>
<path d="M853.5 228V258.5M842.9 247.6L853.5 258.8L864.1 247.6" fill="none" stroke="#000" stroke-width="2.4"/>
<rect x="156.1" y="1386.0" width="15.5" height="711.6" fill="#c8c8c8"/>
<rect x="374.3" y="1386.0" width="258.1" height="711.6" fill="#c8c8c8"/>
<rect x="138.6" y="1379.5" width="665.1" height="725.0" fill="none" stroke="#000" stroke-width="2.6"/>
<path d="M169.0 1379.5L169.0 1385.8M169.0 2104.5L169.0 2098.2M202.4 1379.5L202.4 1385.8M202.4 2104.5L202.4 2098.2M235.8 1379.5L235.8 1385.8M235.8 2104.5L235.8 2098.2M269.2 1379.5L269.2 1385.8M269.2 2104.5L269.2 2098.2M302.6 1379.5L302.6 1385.8M302.6 2104.5L302.6 2098.2M336.0 1379.5L336.0 1393.1M336.0 2104.5L336.0 2090.9M369.4 1379.5L369.4 1385.8M369.4 2104.5L369.4 2098.2M402.8 1379.5L402.8 1385.8M402.8 2104.5L402.8 2098.2M436.2 1379.5L436.2 1385.8M436.2 2104.5L436.2 2098.2M469.6 1379.5L469.6 1385.8M469.6 2104.5L469.6 2098.2M503.0 1379.5L503.0 1385.8M503.0 2104.5L503.0 2098.2M536.4 1379.5L536.4 1385.8M536.4 2104.5L536.4 2098.2M569.8 1379.5L569.8 1385.8M569.8 2104.5L569.8 2098.2M603.2 1379.5L603.2 1385.8M603.2 2104.5L603.2 2098.2M636.6 1379.5L636.6 1385.8M636.6 2104.5L636.6 2098.2M670.0 1379.5L670.0 1393.1M670.0 2104.5L670.0 2090.9M703.4 1379.5L703.4 1385.8M703.4 2104.5L703.4 2098.2M736.8 1379.5L736.8 1385.8M736.8 2104.5L736.8 2098.2M770.2 1379.5L770.2 1385.8M770.2 2104.5L770.2 2098.2M138.6 2082.2L145.6 2082.2M803.8 2082.2L796.8 2082.2M138.6 2060.2L145.6 2060.2M803.8 2060.2L796.8 2060.2M138.6 2038.3L152.1 2038.3M803.8 2038.3L790.2 2038.3M138.6 2016.3L145.6 2016.3M803.8 2016.3L796.8 2016.3M138.6 1994.4L145.6 1994.4M803.8 1994.4L796.8 1994.4M138.6 1972.5L145.6 1972.5M803.8 1972.5L796.8 1972.5M138.6 1950.5L145.6 1950.5M803.8 1950.5L796.8 1950.5M138.6 1928.5L152.1 1928.5M803.8 1928.5L790.2 1928.5M138.6 1906.6L145.6 1906.6M803.8 1906.6L796.8 1906.6M138.6 1884.6L145.6 1884.6M803.8 1884.6L796.8 1884.6M138.6 1862.7L145.6 1862.7M803.8 1862.7L796.8 1862.7M138.6 1840.8L145.6 1840.8M803.8 1840.8L796.8 1840.8M138.6 1818.8L152.1 1818.8M803.8 1818.8L790.2 1818.8M138.6 1796.8L145.6 1796.8M803.8 1796.8L796.8 1796.8M138.6 1774.9L145.6 1774.9M803.8 1774.9L796.8 1774.9M138.6 1752.9L145.6 1752.9M803.8 1752.9L796.8 1752.9M138.6 1731.0L145.6 1731.0M803.8 1731.0L796.8 1731.0M138.6 1709.0L152.1 1709.0M803.8 1709.0L790.2 1709.0M138.6 1687.1L145.6 1687.1M803.8 1687.1L796.8 1687.1M138.6 1665.1L145.6 1665.1M803.8 1665.1L796.8 1665.1M138.6 1643.2L145.6 1643.2M803.8 1643.2L796.8 1643.2M138.6 1621.2L145.6 1621.2M803.8 1621.2L796.8 1621.2M138.6 1599.3L152.1 1599.3M803.8 1599.3L790.2 1599.3M138.6 1577.3L145.6 1577.3M803.8 1577.3L796.8 1577.3M138.6 1555.4L145.6 1555.4M803.8 1555.4L796.8 1555.4M138.6 1533.4L145.6 1533.4M803.8 1533.4L796.8 1533.4M138.6 1511.5L145.6 1511.5M803.8 1511.5L796.8 1511.5M138.6 1489.5L152.1 1489.5M803.8 1489.5L790.2 1489.5M138.6 1467.6L145.6 1467.6M803.8 1467.6L796.8 1467.6M138.6 1445.6L145.6 1445.6M803.8 1445.6L796.8 1445.6M138.6 1423.7L145.6 1423.7M803.8 1423.7L796.8 1423.7M138.6 1401.8L145.6 1401.8M803.8 1401.8L796.8 1401.8" stroke="#000" stroke-width="2.6" fill="none"/>
<line x1="138.1" y1="2038.3" x2="803.8" y2="2038.3" stroke="#000" stroke-width="3.6" stroke-dasharray="4.4 8.47"/>
<line x1="255.6" y1="1385.9" x2="255.6" y2="2104.5" stroke="#0565db" stroke-width="5" stroke-dasharray="18.3 18.57"/>
<line x1="386.2" y1="1385.9" x2="386.2" y2="2104.5" stroke="#0565db" stroke-width="5" stroke-dasharray="18.3 18.57"/>
<polyline clip-path="url(#d0)" points="139.0,2087.3 143.0,2102.3 147.0,2102.3 150.0,2098.3 153.0,2079.3 155.0,2078.3 159.0,2087.3 164.0,2108.3 167.9,2093.3 174.5,2071.4 178.9,2038.4 183.9,2055.4 188.9,2060.4 193.9,2068.4 198.9,2068.4 203.9,2089.3 208.9,2081.3 213.9,2089.3 218.8,2071.4 224.4,2077.3 229.8,2047.4 232.8,1989.5 235.8,1889.7 238.8,1809.9 240.8,1760.0 241.2,1760.0 245.4,1643.8 248.7,1530.0 251.2,1473.1 253.3,1433.0 254.0,1429.6 259.7,1432.2 261.4,1446.3 265.0,1476.0 268.3,1518.3 273.1,1595.4 278.0,1679.2 284.5,1776.0 286.7,1802.5 289.7,1832.9 292.7,1857.3 298.7,1903.7 304.7,1899.7 310.7,1915.7 316.6,1933.6 319.6,1946.6 324.6,1946.6 328.6,1957.6 334.6,1960.6 340.6,1971.6 343.6,1985.5 348.6,2003.5 358.6,1994.5 364.1,1982.5 369.5,1982.5 374.5,1993.5 379.5,2042.4 385.5,2039.4 389.5,2031.4 394.5,1989.5 398.5,1979.5 404.5,1953.6 409.5,1979.5 414.4,2045.4 419.4,2078.3 424.4,2057.4 429.4,2019.5 434.0,1991.5 439.6,2034.0 444.7,2053.0 449.7,2059.3 454.8,2016.3 459.8,2002.4 464.9,1993.6 469.9,2010.0 474.8,1987.2 479.8,2021.4 484.9,2001.1 489.9,2020.9 494.7,1974.6 499.8,1982.2 504.8,1994.8 509.9,2016.8 515.0,2003.7 519.8,1990.5 524.6,1934.9 529.6,1984.7 534.7,1996.1 539.5,2032.0 544.5,2008.7 549.6,1996.1 554.7,2016.8 559.7,2005.7 564.8,2004.9 569.8,1997.3 574.6,2059.3 579.7,2061.8 584.7,2045.4 589.5,1995.6 594.6,2021.4 599.7,2048.7 604.7,2038.6 609.5,2003.2 614.6,2017.6 619.6,2035.3 624.7,2077.0 629.7,2069.4 634.8,2089.1 639.9,2058.8 644.9,2042.9 649.7,2034.5 654.8,2054.2 659.8,2074.0 664.9,2058.0 669.9,2045.4 674.8,2029.0 679.8,2035.3 684.9,2045.4 689.9,2040.3 695.0,2030.2 700.0,2032.7 705.1,2031.5 709.9,2032.7 715.0,2014.3 720.0,2016.8 725.1,2064.9 730.1,2065.6 735.2,2066.9 740.0,2026.4 745.0,2032.7 750.1,2028.4 755.2,2040.3 760.2,2025.2 765.3,2032.7 770.1,2023.9 775.1,2034.5 780.2,2033.5 785.2,2023.9 790.3,2031.5 795.4,2027.7 800.4,2054.2 802.9,2026.4" fill="none" stroke="#000" stroke-width="3.6" stroke-linejoin="miter" stroke-miterlimit="3"/>
<polyline points="258.6,1599.7 259.1,1600.5 259.6,1601.7 260.1,1603.4 260.6,1605.4 261.1,1607.9 261.6,1610.7 262.1,1614.0 262.6,1617.6 263.1,1621.6 263.6,1626.0 264.1,1630.7 264.6,1635.7 265.1,1641.1 265.6,1646.7 266.1,1652.7 266.6,1658.9 267.1,1665.4 267.6,1672.2 268.1,1679.1 268.6,1686.3 269.1,1693.6 269.6,1701.2 270.1,1708.9 270.6,1716.7 271.1,1724.6 271.6,1732.6 272.1,1740.8 272.6,1748.9 273.1,1757.2 273.6,1765.4 274.1,1773.7 274.6,1782.0 275.1,1790.2 275.6,1798.4 276.1,1806.6 276.6,1814.7 277.1,1822.7 277.6,1830.6 278.1,1838.5 278.6,1846.2 279.1,1853.8 279.6,1861.3 280.1,1868.6 280.6,1875.8 281.1,1882.9 281.6,1889.7 282.1,1896.4 282.6,1903.0 283.1,1909.3 283.6,1915.5 284.1,1921.5 284.6,1927.3 285.1,1932.9 285.6,1938.4 286.1,1943.6 286.6,1948.7 287.1,1953.5 287.6,1958.2 288.1,1962.7 288.6,1967.0 289.1,1971.2 289.6,1975.1 290.1,1978.9 290.6,1982.5 291.1,1985.9 291.6,1989.2 292.1,1992.3 292.6,1995.3 293.1,1998.1 293.6,2000.7 294.1,2003.3 294.6,2005.6 295.1,2007.9 295.6,2010.0 296.1,2012.0 296.6,2013.9 297.1,2015.6 297.6,2017.3 298.1,2018.9 298.6,2020.3 299.1,2021.7 299.6,2023.0 300.1,2024.2 300.6,2025.3 301.1,2026.3 301.6,2027.3 302.1,2028.2 302.6,2029.0 303.1,2029.8 303.6,2030.5 304.1,2031.1 304.6,2031.8 305.1,2032.3 305.6,2032.9 306.1,2033.3 306.6,2033.8 307.1,2034.2 307.6,2034.6 308.1,2034.9 308.6,2035.2 309.1,2035.5 309.6,2035.8 310.1,2036.0 310.6,2036.2 311.1,2036.4 311.6,2036.6 312.1,2036.8 312.6,2036.9 313.1,2037.1 313.6,2037.2 314.1,2037.3 314.6,2037.4 315.1,2037.5 315.6,2037.6 316.1,2037.7 316.6,2037.7 317.1,2037.8 317.6,2037.8 318.1,2037.9 318.6,2037.9 319.1,2038.0 319.6,2038.0 320.1,2038.0 320.6,2038.1 321.1,2038.1 321.6,2038.1 322.1,2038.1 322.6,2038.2 323.1,2038.2 323.6,2038.2 324.1,2038.2 324.6,2038.2 325.1,2038.2 325.6,2038.2 326.1,2038.2 326.6,2038.3 327.1,2038.3 327.6,2038.3 328.1,2038.3 328.6,2038.3 329.1,2038.3 329.6,2038.3 330.1,2038.3 330.6,2038.3 331.1,2038.3 331.6,2038.3 332.1,2038.3 332.6,2038.3 333.1,2038.3 333.6,2038.3 334.1,2038.3 334.6,2038.3 335.1,2038.3 335.6,2038.3 336.1,2038.3 336.6,2038.3 337.1,2038.3 337.6,2038.3 338.1,2038.3 338.6,2038.3 339.1,2038.3 339.6,2038.3 340.1,2038.3 340.6,2038.3 341.1,2038.3 341.6,2038.3 342.1,2038.3 342.6,2038.3 343.1,2038.3 343.6,2038.3 344.1,2038.3 344.6,2038.3 345.1,2038.3 345.6,2038.3 346.1,2038.3 346.6,2038.3 347.1,2038.3 347.6,2038.3 348.1,2038.3 348.6,2038.3 349.1,2038.3 349.6,2038.3 350.1,2038.3 350.6,2038.3 351.1,2038.3 351.6,2038.3 352.1,2038.3 352.6,2038.3 353.1,2038.3 353.6,2038.3 354.1,2038.3 354.6,2038.3 355.1,2038.3 355.6,2038.3 356.1,2038.3 356.6,2038.3 357.1,2038.3 357.6,2038.3 358.1,2038.3 358.6,2038.3 359.1,2038.3 359.6,2038.3 360.1,2038.3 360.6,2038.3 361.1,2038.3 361.6,2038.3 362.1,2038.3 362.6,2038.3 363.1,2038.3 363.6,2038.3 364.1,2038.3 364.6,2038.3 365.1,2038.3 365.6,2038.3 366.1,2038.3 366.6,2038.3 367.1,2038.3 367.6,2038.3 368.1,2038.3 368.6,2038.3 369.1,2038.3 369.6,2038.3 370.1,2038.3 370.6,2038.3 371.1,2038.3 371.6,2038.3 372.1,2038.3 372.6,2038.3 373.1,2038.3 373.6,2038.3 374.1,2038.3 374.6,2038.3 375.1,2038.3 375.6,2038.3 376.1,2038.3 376.6,2038.3 377.1,2038.3 377.6,2038.3 378.1,2038.3 378.6,2038.3 379.1,2038.3 379.6,2038.3 380.1,2038.3 380.6,2038.3 381.1,2038.3 381.6,2038.3 382.1,2038.3 382.6,2038.3 383.1,2038.3 383.6,2038.3 384.1,2038.3 384.6,2038.3" fill="none" stroke="#f20c78" stroke-width="1.4"/>
<polyline points="258.6,1876.5 259.1,1876.6 259.6,1876.6 260.1,1876.6 260.6,1876.7 261.1,1876.8 261.6,1876.8 262.1,1876.9 262.6,1877.0 263.1,1877.1 263.6,1877.3 264.1,1877.4 264.6,1877.6 265.1,1877.7 265.6,1877.9 266.1,1878.1 266.6,1878.2 267.1,1878.5 267.6,1878.7 268.1,1878.9 268.6,1879.1 269.1,1879.4 269.6,1879.6 270.1,1879.9 270.6,1880.2 271.1,1880.5 271.6,1880.8 272.1,1881.1 272.6,1881.4 273.1,1881.7 273.6,1882.1 274.1,1882.4 274.6,1882.8 275.1,1883.1 275.6,1883.5 276.1,1883.9 276.6,1884.3 277.1,1884.7 277.6,1885.2 278.1,1885.6 278.6,1886.0 279.1,1886.5 279.6,1886.9 280.1,1887.4 280.6,1887.9 281.1,1888.4 281.6,1888.9 282.1,1889.4 282.6,1889.9 283.1,1890.4 283.6,1890.9 284.1,1891.5 284.6,1892.0 285.1,1892.6 285.6,1893.1 286.1,1893.7 286.6,1894.3 287.1,1894.9 287.6,1895.5 288.1,1896.1 288.6,1896.7 289.1,1897.3 289.6,1897.9 290.1,1898.6 290.6,1899.2 291.1,1899.8 291.6,1900.5 292.1,1901.2 292.6,1901.8 293.1,1902.5 293.6,1903.2 294.1,1903.9 294.6,1904.6 295.1,1905.2 295.6,1905.9 296.1,1906.7 296.6,1907.4 297.1,1908.1 297.6,1908.8 298.1,1909.5 298.6,1910.3 299.1,1911.0 299.6,1911.8 300.1,1912.5 300.6,1913.3 301.1,1914.0 301.6,1914.8 302.1,1915.5 302.6,1916.3 303.1,1917.1 303.6,1917.9 304.1,1918.6 304.6,1919.4 305.1,1920.2 305.6,1921.0 306.1,1921.8 306.6,1922.6 307.1,1923.4 307.6,1924.2 308.1,1925.0 308.6,1925.8 309.1,1926.6 309.6,1927.4 310.1,1928.2 310.6,1929.0 311.1,1929.8 311.6,1930.6 312.1,1931.5 312.6,1932.3 313.1,1933.1 313.6,1933.9 314.1,1934.7 314.6,1935.6 315.1,1936.4 315.6,1937.2 316.1,1938.0 316.6,1938.9 317.1,1939.7 317.6,1940.5 318.1,1941.3 318.6,1942.2 319.1,1943.0 319.6,1943.8 320.1,1944.6 320.6,1945.5 321.1,1946.3 321.6,1947.1 322.1,1947.9 322.6,1948.7 323.1,1949.6 323.6,1950.4 324.1,1951.2 324.6,1952.0 325.1,1952.8 325.6,1953.6 326.1,1954.4 326.6,1955.2 327.1,1956.0 327.6,1956.8 328.1,1957.6 328.6,1958.4 329.1,1959.2 329.6,1960.0 330.1,1960.8 330.6,1961.6 331.1,1962.4 331.6,1963.2 332.1,1964.0 332.6,1964.7 333.1,1965.5 333.6,1966.3 334.1,1967.1 334.6,1967.8 335.1,1968.6 335.6,1969.3 336.1,1970.1 336.6,1970.8 337.1,1971.6 337.6,1972.3 338.1,1973.1 338.6,1973.8 339.1,1974.5 339.6,1975.3 340.1,1976.0 340.6,1976.7 341.1,1977.4 341.6,1978.2 342.1,1978.9 342.6,1979.6 343.1,1980.3 343.6,1981.0 344.1,1981.7 344.6,1982.3 345.1,1983.0 345.6,1983.7 346.1,1984.4 346.6,1985.0 347.1,1985.7 347.6,1986.4 348.1,1987.0 348.6,1987.7 349.1,1988.3 349.6,1989.0 350.1,1989.6 350.6,1990.2 351.1,1990.9 351.6,1991.5 352.1,1992.1 352.6,1992.7 353.1,1993.3 353.6,1993.9 354.1,1994.5 354.6,1995.1 355.1,1995.7 355.6,1996.3 356.1,1996.9 356.6,1997.4 357.1,1998.0 357.6,1998.6 358.1,1999.1 358.6,1999.7 359.1,2000.2 359.6,2000.8 360.1,2001.3 360.6,2001.8 361.1,2002.4 361.6,2002.9 362.1,2003.4 362.6,2003.9 363.1,2004.4 363.6,2004.9 364.1,2005.4 364.6,2005.9 365.1,2006.4 365.6,2006.9 366.1,2007.3 366.6,2007.8 367.1,2008.3 367.6,2008.7 368.1,2009.2 368.6,2009.6 369.1,2010.1 369.6,2010.5 370.1,2011.0 370.6,2011.4 371.1,2011.8 371.6,2012.2 372.1,2012.7 372.6,2013.1 373.1,2013.5 373.6,2013.9 374.1,2014.3 374.6,2014.7 375.1,2015.1 375.6,2015.4 376.1,2015.8 376.6,2016.2 377.1,2016.6 377.6,2016.9 378.1,2017.3 378.6,2017.6 379.1,2018.0 379.6,2018.3 380.1,2018.7 380.6,2019.0 381.1,2019.3 381.6,2019.7 382.1,2020.0 382.6,2020.3 383.1,2020.6 383.6,2020.9 384.1,2021.2 384.6,2021.5" fill="none" stroke="#f20c78" stroke-width="1.4"/>
<polyline points="258.6,1438.0 259.1,1438.8 259.6,1440.0 260.1,1441.7 260.6,1443.8 261.1,1446.3 261.6,1449.3 262.1,1452.6 262.6,1456.3 263.1,1460.5 263.6,1464.9 264.1,1469.8 264.6,1475.0 265.1,1480.5 265.6,1486.3 266.1,1492.5 266.6,1498.9 267.1,1505.6 267.6,1512.5 268.1,1519.7 268.6,1527.1 269.1,1534.7 269.6,1542.5 270.1,1550.5 270.6,1558.5 271.1,1566.8 271.6,1575.1 272.1,1583.5 272.6,1592.0 273.1,1600.6 273.6,1609.2 274.1,1617.8 274.6,1626.4 275.1,1635.0 275.6,1643.6 276.1,1652.2 276.6,1660.7 277.1,1669.1 277.6,1677.5 278.1,1685.8 278.6,1693.9 279.1,1702.0 279.6,1709.9 280.1,1717.7 280.6,1725.4 281.1,1732.9 281.6,1740.3 282.1,1747.5 282.6,1754.6 283.1,1761.4 283.6,1768.1 284.1,1774.7 284.6,1781.0 285.1,1787.2 285.6,1793.2 286.1,1799.0 286.6,1804.7 287.1,1810.1 287.6,1815.4 288.1,1820.5 288.6,1825.4 289.1,1830.2 289.6,1834.7 290.1,1839.2 290.6,1843.4 291.1,1847.5 291.6,1851.4 292.1,1855.2 292.6,1858.8 293.1,1862.3 293.6,1865.6 294.1,1868.8 294.6,1871.9 295.1,1874.8 295.6,1877.6 296.1,1880.4 296.6,1882.9 297.1,1885.4 297.6,1887.8 298.1,1890.1 298.6,1892.3 299.1,1894.4 299.6,1896.4 300.1,1898.4 300.6,1900.2 301.1,1902.0 301.6,1903.7 302.1,1905.4 302.6,1907.0 303.1,1908.5 303.6,1910.0 304.1,1911.5 304.6,1912.9 305.1,1914.2 305.6,1915.5 306.1,1916.8 306.6,1918.0 307.1,1919.3 307.6,1920.4 308.1,1921.6 308.6,1922.7 309.1,1923.8 309.6,1924.9 310.1,1925.9 310.6,1926.9 311.1,1928.0 311.6,1929.0 312.1,1929.9 312.6,1930.9 313.1,1931.9 313.6,1932.8 314.1,1933.8 314.6,1934.7 315.1,1935.6 315.6,1936.5 316.1,1937.4 316.6,1938.3 317.1,1939.2 317.6,1940.1 318.1,1940.9 318.6,1941.8 319.1,1942.7 319.6,1943.5 320.1,1944.4 320.6,1945.2 321.1,1946.1 321.6,1946.9 322.1,1947.8 322.6,1948.6 323.1,1949.4 323.6,1950.3 324.1,1951.1 324.6,1951.9 325.1,1952.7 325.6,1953.6 326.1,1954.4 326.6,1955.2 327.1,1956.0 327.6,1956.8 328.1,1957.6 328.6,1958.4 329.1,1959.2 329.6,1960.0 330.1,1960.8 330.6,1961.6 331.1,1962.4 331.6,1963.2 332.1,1964.0 332.6,1964.7 333.1,1965.5 333.6,1966.3 334.1,1967.0 334.6,1967.8 335.1,1968.6 335.6,1969.3 336.1,1970.1 336.6,1970.8 337.1,1971.6 337.6,1972.3 338.1,1973.1 338.6,1973.8 339.1,1974.5 339.6,1975.3 340.1,1976.0 340.6,1976.7 341.1,1977.4 341.6,1978.2 342.1,1978.9 342.6,1979.6 343.1,1980.3 343.6,1981.0 344.1,1981.7 344.6,1982.3 345.1,1983.0 345.6,1983.7 346.1,1984.4 346.6,1985.0 347.1,1985.7 347.6,1986.4 348.1,1987.0 348.6,1987.7 349.1,1988.3 349.6,1989.0 350.1,1989.6 350.6,1990.2 351.1,1990.9 351.6,1991.5 352.1,1992.1 352.6,1992.7 353.1,1993.3 353.6,1993.9 354.1,1994.5 354.6,1995.1 355.1,1995.7 355.6,1996.3 356.1,1996.9 356.6,1997.4 357.1,1998.0 357.6,1998.6 358.1,1999.1 358.6,1999.7 359.1,2000.2 359.6,2000.8 360.1,2001.3 360.6,2001.8 361.1,2002.4 361.6,2002.9 362.1,2003.4 362.6,2003.9 363.1,2004.4 363.6,2004.9 364.1,2005.4 364.6,2005.9 365.1,2006.4 365.6,2006.9 366.1,2007.3 366.6,2007.8 367.1,2008.3 367.6,2008.7 368.1,2009.2 368.6,2009.6 369.1,2010.1 369.6,2010.5 370.1,2011.0 370.6,2011.4 371.1,2011.8 371.6,2012.2 372.1,2012.7 372.6,2013.1 373.1,2013.5 373.6,2013.9 374.1,2014.3 374.6,2014.7 375.1,2015.1 375.6,2015.4 376.1,2015.8 376.6,2016.2 377.1,2016.6 377.6,2016.9 378.1,2017.3 378.6,2017.6 379.1,2018.0 379.6,2018.3 380.1,2018.7 380.6,2019.0 381.1,2019.3 381.6,2019.7 382.1,2020.0 382.6,2020.3 383.1,2020.6 383.6,2020.9 384.1,2021.2 384.6,2021.5" fill="none" stroke="#f20c78" stroke-width="4.6"/>
<rect x="825.9" y="1386.0" width="15.5" height="711.6" fill="#c8c8c8"/>
<rect x="1044.1" y="1386.0" width="258.1" height="711.6" fill="#c8c8c8"/>
<rect x="808.6" y="1379.5" width="665.2" height="725.0" fill="none" stroke="#000" stroke-width="2.6"/>
<path d="M838.8 1379.5L838.8 1385.8M838.8 2104.5L838.8 2098.2M872.2 1379.5L872.2 1385.8M872.2 2104.5L872.2 2098.2M905.6 1379.5L905.6 1385.8M905.6 2104.5L905.6 2098.2M939.0 1379.5L939.0 1385.8M939.0 2104.5L939.0 2098.2M972.4 1379.5L972.4 1385.8M972.4 2104.5L972.4 2098.2M1005.8 1379.5L1005.8 1393.1M1005.8 2104.5L1005.8 2090.9M1039.2 1379.5L1039.2 1385.8M1039.2 2104.5L1039.2 2098.2M1072.6 1379.5L1072.6 1385.8M1072.6 2104.5L1072.6 2098.2M1106.0 1379.5L1106.0 1385.8M1106.0 2104.5L1106.0 2098.2M1139.4 1379.5L1139.4 1385.8M1139.4 2104.5L1139.4 2098.2M1172.8 1379.5L1172.8 1385.8M1172.8 2104.5L1172.8 2098.2M1206.2 1379.5L1206.2 1385.8M1206.2 2104.5L1206.2 2098.2M1239.6 1379.5L1239.6 1385.8M1239.6 2104.5L1239.6 2098.2M1273.0 1379.5L1273.0 1385.8M1273.0 2104.5L1273.0 2098.2M1306.4 1379.5L1306.4 1385.8M1306.4 2104.5L1306.4 2098.2M1339.8 1379.5L1339.8 1393.1M1339.8 2104.5L1339.8 2090.9M1373.2 1379.5L1373.2 1385.8M1373.2 2104.5L1373.2 2098.2M1406.6 1379.5L1406.6 1385.8M1406.6 2104.5L1406.6 2098.2M1440.0 1379.5L1440.0 1385.8M1440.0 2104.5L1440.0 2098.2M808.6 2082.2L815.6 2082.2M1473.8 2082.2L1466.8 2082.2M808.6 2060.2L815.6 2060.2M1473.8 2060.2L1466.8 2060.2M808.6 2038.3L822.1 2038.3M1473.8 2038.3L1460.3 2038.3M808.6 2016.3L815.6 2016.3M1473.8 2016.3L1466.8 2016.3M808.6 1994.4L815.6 1994.4M1473.8 1994.4L1466.8 1994.4M808.6 1972.5L815.6 1972.5M1473.8 1972.5L1466.8 1972.5M808.6 1950.5L815.6 1950.5M1473.8 1950.5L1466.8 1950.5M808.6 1928.5L822.1 1928.5M1473.8 1928.5L1460.3 1928.5M808.6 1906.6L815.6 1906.6M1473.8 1906.6L1466.8 1906.6M808.6 1884.6L815.6 1884.6M1473.8 1884.6L1466.8 1884.6M808.6 1862.7L815.6 1862.7M1473.8 1862.7L1466.8 1862.7M808.6 1840.8L815.6 1840.8M1473.8 1840.8L1466.8 1840.8M808.6 1818.8L822.1 1818.8M1473.8 1818.8L1460.3 1818.8M808.6 1796.8L815.6 1796.8M1473.8 1796.8L1466.8 1796.8M808.6 1774.9L815.6 1774.9M1473.8 1774.9L1466.8 1774.9M808.6 1752.9L815.6 1752.9M1473.8 1752.9L1466.8 1752.9M808.6 1731.0L815.6 1731.0M1473.8 1731.0L1466.8 1731.0M808.6 1709.0L822.1 1709.0M1473.8 1709.0L1460.3 1709.0M808.6 1687.1L815.6 1687.1M1473.8 1687.1L1466.8 1687.1M808.6 1665.1L815.6 1665.1M1473.8 1665.1L1466.8 1665.1M808.6 1643.2L815.6 1643.2M1473.8 1643.2L1466.8 1643.2M808.6 1621.2L815.6 1621.2M1473.8 1621.2L1466.8 1621.2M808.6 1599.3L822.1 1599.3M1473.8 1599.3L1460.3 1599.3M808.6 1577.3L815.6 1577.3M1473.8 1577.3L1466.8 1577.3M808.6 1555.4L815.6 1555.4M1473.8 1555.4L1466.8 1555.4M808.6 1533.4L815.6 1533.4M1473.8 1533.4L1466.8 1533.4M808.6 1511.5L815.6 1511.5M1473.8 1511.5L1466.8 1511.5M808.6 1489.5L822.1 1489.5M1473.8 1489.5L1460.3 1489.5M808.6 1467.6L815.6 1467.6M1473.8 1467.6L1466.8 1467.6M808.6 1445.6L815.6 1445.6M1473.8 1445.6L1466.8 1445.6M808.6 1423.7L815.6 1423.7M1473.8 1423.7L1466.8 1423.7M808.6 1401.8L815.6 1401.8M1473.8 1401.8L1466.8 1401.8" stroke="#000" stroke-width="2.6" fill="none"/>
<line x1="808.1" y1="2038.3" x2="1473.8" y2="2038.3" stroke="#000" stroke-width="3.6" stroke-dasharray="4.4 8.47"/>
<line x1="925.4" y1="1385.9" x2="925.4" y2="2104.5" stroke="#0565db" stroke-width="5" stroke-dasharray="18.3 18.57"/>
<line x1="1056.0" y1="1385.9" x2="1056.0" y2="2104.5" stroke="#0565db" stroke-width="5" stroke-dasharray="18.3 18.57"/>
<polyline clip-path="url(#d1)" points="809.4,2093.3 813.4,2096.3 818.6,2056.4 824.0,2093.3 829.0,2072.3 833.9,2083.3 838.9,2091.3 843.9,2091.3 848.9,2102.3 853.9,2082.3 858.5,2070.3 863.9,2058.4 868.9,2053.4 873.9,2072.3 883.8,2096.3 898.8,2061.4 902.8,2043.4 906.8,2015.4 909.8,1989.5 912.8,1939.6 916.8,1889.7 920.8,1849.8 923.8,1824.8 926.8,1813.9 929.8,1806.9 934.7,1803.9 939.1,1816.8 943.7,1800.9 948.7,1805.9 953.7,1798.9 955.7,1817.8 958.3,1839.8 963.7,1845.8 968.7,1855.8 974.7,1857.8 978.7,1875.7 983.6,1909.7 988.6,1915.6 993.6,1910.7 998.6,1926.6 1003.6,1930.6 1008.6,1955.6 1013.6,1958.6 1019.6,1961.6 1024.6,1973.5 1029.6,1991.5 1031.5,2009.5 1034.1,2044.4 1039.5,2048.4 1044.5,2039.4 1049.5,2021.4 1054.5,2027.4 1058.9,2034.4 1064.5,2023.4 1069.5,2009.5 1074.5,1997.5 1079.5,2039.4 1084.4,2031.4 1089.4,2046.4 1094.4,1991.5 1099.4,2033.4 1104.6,2025.8 1109.8,2050.5 1115.0,2047.9 1119.9,2070.0 1124.8,2085.5 1130.0,2068.7 1135.2,2057.0 1140.1,2050.5 1145.1,2028.4 1150.0,2042.2 1154.9,2004.3 1159.9,2005.9 1164.5,1969.5 1169.7,2019.4 1174.7,2041.4 1179.6,2066.1 1184.5,2027.1 1189.7,2046.6 1194.6,2011.1 1199.6,2041.4 1204.5,2005.9 1209.7,2009.5 1214.6,2032.8 1219.5,2024.5 1224.5,2013.6 1229.4,1989.5 1234.3,1951.9 1239.5,1929.8 1244.7,1983.0 1249.6,2016.8 1254.6,2062.2 1259.5,2028.4 1264.7,2018.1 1269.6,2053.1 1274.6,2053.6 1279.7,2057.0 1284.7,2046.6 1289.6,2060.9 1294.8,2071.8 1300.0,2054.4 1304.9,2038.8 1309.8,2044.0 1314.8,2038.8 1320.0,2025.1 1324.9,2030.5 1330.1,2034.9 1335.0,2045.8 1339.9,2028.4 1344.9,2036.2 1350.1,2025.1 1355.0,2019.9 1360.2,2019.9 1365.1,2018.1 1370.0,2018.1 1375.2,2013.6 1380.2,2045.3 1385.1,2054.4 1390.0,2045.8 1395.2,2049.2 1400.1,2044.0 1405.3,2029.7 1410.3,2019.4 1415.2,2032.3 1420.1,2053.1 1425.0,2029.7 1430.0,2012.9 1435.2,2022.0 1440.1,2034.9 1445.0,2040.6 1450.2,2038.8 1455.1,2060.9 1460.1,2085.5 1465.3,2092.0 1469.9,2060.9 1473.8,2040.1" fill="none" stroke="#000" stroke-width="3.6" stroke-linejoin="miter" stroke-miterlimit="3"/>
<polyline points="929.6,1788.8 930.1,1788.7 930.6,1788.7 931.1,1788.7 931.6,1788.8 932.1,1788.8 932.6,1788.9 933.1,1789.0 933.6,1789.2 934.1,1789.3 934.6,1789.5 935.1,1789.7 935.6,1789.9 936.1,1790.1 936.6,1790.4 937.1,1790.7 937.6,1791.0 938.1,1791.3 938.6,1791.7 939.1,1792.1 939.6,1792.5 940.1,1792.9 940.6,1793.3 941.1,1793.8 941.6,1794.3 942.1,1794.8 942.6,1795.3 943.1,1795.8 943.6,1796.4 944.1,1797.0 944.6,1797.6 945.1,1798.2 945.6,1798.9 946.1,1799.5 946.6,1800.2 947.1,1800.9 947.6,1801.7 948.1,1802.4 948.6,1803.2 949.1,1804.0 949.6,1804.8 950.1,1805.6 950.6,1806.4 951.1,1807.3 951.6,1808.2 952.1,1809.1 952.6,1810.0 953.1,1810.9 953.6,1811.8 954.1,1812.8 954.6,1813.8 955.1,1814.8 955.6,1815.8 956.1,1816.8 956.6,1817.8 957.1,1818.9 957.6,1820.0 958.1,1821.1 958.6,1822.2 959.1,1823.3 959.6,1824.4 960.1,1825.5 960.6,1826.7 961.1,1827.9 961.6,1829.0 962.1,1830.2 962.6,1831.4 963.1,1832.6 963.6,1833.9 964.1,1835.1 964.6,1836.4 965.1,1837.6 965.6,1838.9 966.1,1840.2 966.6,1841.5 967.1,1842.8 967.6,1844.1 968.1,1845.4 968.6,1846.7 969.1,1848.0 969.6,1849.4 970.1,1850.7 970.6,1852.1 971.1,1853.4 971.6,1854.8 972.1,1856.2 972.6,1857.6 973.1,1859.0 973.6,1860.4 974.1,1861.8 974.6,1863.2 975.1,1864.6 975.6,1866.0 976.1,1867.4 976.6,1868.8 977.1,1870.2 977.6,1871.7 978.1,1873.1 978.6,1874.5 979.1,1876.0 979.6,1877.4 980.1,1878.8 980.6,1880.3 981.1,1881.7 981.6,1883.2 982.1,1884.6 982.6,1886.1 983.1,1887.5 983.6,1888.9 984.1,1890.4 984.6,1891.8 985.1,1893.3 985.6,1894.7 986.1,1896.2 986.6,1897.6 987.1,1899.0 987.6,1900.5 988.1,1901.9 988.6,1903.3 989.1,1904.8 989.6,1906.2 990.1,1907.6 990.6,1909.0 991.1,1910.4 991.6,1911.8 992.1,1913.2 992.6,1914.6 993.1,1916.0 993.6,1917.4 994.1,1918.8 994.6,1920.2 995.1,1921.6 995.6,1922.9 996.1,1924.3 996.6,1925.7 997.1,1927.0 997.6,1928.4 998.1,1929.7 998.6,1931.0 999.1,1932.4 999.6,1933.7 1000.1,1935.0 1000.6,1936.3 1001.1,1937.6 1001.6,1938.9 1002.1,1940.2 1002.6,1941.5 1003.1,1942.7 1003.6,1944.0 1004.1,1945.2 1004.6,1946.5 1005.1,1947.7 1005.6,1948.9 1006.1,1950.2 1006.6,1951.4 1007.1,1952.6 1007.6,1953.8 1008.1,1954.9 1008.6,1956.1 1009.1,1957.3 1009.6,1958.4 1010.1,1959.6 1010.6,1960.7 1011.1,1961.8 1011.6,1963.0 1012.1,1964.1 1012.6,1965.2 1013.1,1966.3 1013.6,1967.3 1014.1,1968.4 1014.6,1969.5 1015.1,1970.5 1015.6,1971.5 1016.1,1972.6 1016.6,1973.6 1017.1,1974.6 1017.6,1975.6 1018.1,1976.6 1018.6,1977.6 1019.1,1978.5 1019.6,1979.5 1020.1,1980.5 1020.6,1981.4 1021.1,1982.3 1021.6,1983.2 1022.1,1984.1 1022.6,1985.0 1023.1,1985.9 1023.6,1986.8 1024.1,1987.7 1024.6,1988.5 1025.1,1989.4 1025.6,1990.2 1026.1,1991.0 1026.6,1991.9 1027.1,1992.7 1027.6,1993.5 1028.1,1994.3 1028.6,1995.0 1029.1,1995.8 1029.6,1996.6 1030.1,1997.3 1030.6,1998.0 1031.1,1998.8 1031.6,1999.5 1032.1,2000.2 1032.6,2000.9 1033.1,2001.6 1033.6,2002.3 1034.1,2003.0 1034.6,2003.6 1035.1,2004.3 1035.6,2004.9 1036.1,2005.5 1036.6,2006.2 1037.1,2006.8 1037.6,2007.4 1038.1,2008.0 1038.6,2008.6 1039.1,2009.2 1039.6,2009.7 1040.1,2010.3 1040.6,2010.9 1041.1,2011.4 1041.6,2011.9 1042.1,2012.5 1042.6,2013.0 1043.1,2013.5 1043.6,2014.0 1044.1,2014.5 1044.6,2015.0 1045.1,2015.5 1045.6,2015.9 1046.1,2016.4 1046.6,2016.9 1047.1,2017.3 1047.6,2017.8 1048.1,2018.2 1048.6,2018.6 1049.1,2019.0 1049.6,2019.4 1050.1,2019.9 1050.6,2020.2 1051.1,2020.6 1051.6,2021.0 1052.1,2021.4 1052.6,2021.8 1053.1,2022.1 1053.6,2022.5 1054.1,2022.8" fill="none" stroke="#f20c78" stroke-width="4.6"/>
<text x="103.50" y="41.10" font-size="39.0" fill="#000" textLength="27.53" lengthAdjust="spacingAndGlyphs" stroke="#000" stroke-width="0.50" stroke-linejoin="round">3</text>
<text x="104.50" y="158.20" font-size="39.0" fill="#000" textLength="24.10" lengthAdjust="spacingAndGlyphs" stroke="#000" stroke-width="0.50" stroke-linejoin="round">2</text>
<text x="102.20" y="273.60" font-size="39.0" fill="#000" stroke="#000" stroke-width="0.50" stroke-linejoin="round">1</text>
<text x="103.00" y="388.00" font-size="39.0" fill="#000" textLength="26.72" lengthAdjust="spacingAndGlyphs" stroke="#000" stroke-width="0.50" stroke-linejoin="round">0</text>
<text x="103.50" y="431.10" font-size="39.0" fill="#000" textLength="27.53" lengthAdjust="spacingAndGlyphs" stroke="#000" stroke-width="0.50" stroke-linejoin="round">3</text>
<text x="104.50" y="548.20" font-size="39.0" fill="#000" textLength="24.10" lengthAdjust="spacingAndGlyphs" stroke="#000" stroke-width="0.50" stroke-linejoin="round">2</text>
<text x="102.20" y="663.60" font-size="39.0" fill="#000" stroke="#000" stroke-width="0.50" stroke-linejoin="round">1</text>
<text x="103.00" y="778.00" font-size="39.0" fill="#000" textLength="26.72" lengthAdjust="spacingAndGlyphs" stroke="#000" stroke-width="0.50" stroke-linejoin="round">0</text>
<text x="53.00" y="848.20" font-size="39.0" fill="#000" textLength="76.77" lengthAdjust="spacingAndGlyphs" stroke="#000" stroke-width="0.50" stroke-linejoin="round">200</text>
<text x="56.00" y="1015.60" font-size="39.0" fill="#000" textLength="73.94" lengthAdjust="spacingAndGlyphs" stroke="#000" stroke-width="0.50" stroke-linejoin="round">100</text>
<text x="104.00" y="1167.60" font-size="39.0" fill="#000" textLength="25.70" lengthAdjust="spacingAndGlyphs" stroke="#000" stroke-width="0.50" stroke-linejoin="round">0</text>
<text x="194.00" y="1226.00" font-size="39.0" fill="#000" textLength="105.22" lengthAdjust="spacingAndGlyphs" stroke="#000" stroke-width="0.50" stroke-linejoin="round">8500</text>
<text x="717.00" y="1226.00" font-size="39.0" fill="#000" textLength="104.17" lengthAdjust="spacingAndGlyphs" stroke="#000" stroke-width="0.50" stroke-linejoin="round">9000</text>
<text x="1240.00" y="1226.00" font-size="39.0" fill="#000" textLength="103.14" lengthAdjust="spacingAndGlyphs" stroke="#000" stroke-width="0.50" stroke-linejoin="round">9500</text>
<text x="568.50" y="1275.80" font-size="37.7" fill="#000" textLength="181.58" lengthAdjust="spacingAndGlyphs" stroke="#000" stroke-width="0.50" stroke-linejoin="round">Observed</text>
<text x="772.50" y="1275.80" font-size="37.7" fill="#000" textLength="221.04" lengthAdjust="spacingAndGlyphs" stroke="#000" stroke-width="0.50" stroke-linejoin="round">Wavelength</text>
<text x="1014.00" y="1275.80" font-size="37.7" fill="#000" textLength="61.62" lengthAdjust="spacingAndGlyphs" stroke="#000" stroke-width="0.50" stroke-linejoin="round">(A)</text>
<text x="1333.00" y="83.00" font-size="39.0" fill="#000" textLength="127.11" lengthAdjust="spacingAndGlyphs" stroke="#000" stroke-width="1.00" stroke-linejoin="round">FOCAS</text>
<text x="1374.50" y="142.50" font-size="39.0" fill="#000" textLength="88.86" lengthAdjust="spacingAndGlyphs" stroke="#000" stroke-width="1.00" stroke-linejoin="round">(C1)</text>
<text x="1333.00" y="473.00" font-size="39.0" fill="#000" textLength="127.11" lengthAdjust="spacingAndGlyphs" stroke="#000" stroke-width="1.00" stroke-linejoin="round">FOCAS</text>
<text x="1374.50" y="532.50" font-size="39.0" fill="#000" textLength="88.86" lengthAdjust="spacingAndGlyphs" stroke="#000" stroke-width="1.00" stroke-linejoin="round">(C2)</text>
<text x="840.50" y="214.30" font-size="43.0" fill="#000" textLength="25.40" lengthAdjust="spacingAndGlyphs" stroke="#000" stroke-width="0.60" stroke-linejoin="round">?</text>
<text x="194.00" y="866.30" font-size="41.0" fill="#737373" textLength="68.17" lengthAdjust="spacingAndGlyphs" stroke="#737373" stroke-width="0.30" stroke-linejoin="round">Sky</text>
<text x="284.00" y="866.30" font-size="41.0" fill="#737373" textLength="175.10" lengthAdjust="spacingAndGlyphs" stroke="#737373" stroke-width="0.30" stroke-linejoin="round">emission</text>
<text transform="translate(311.70,502.00) rotate(-90)" font-size="33.0" fill="#0565db" textLength="59.71" lengthAdjust="spacingAndGlyphs" stroke="#0565db" stroke-width="1.00" stroke-linejoin="round">Lyα</text>
<text transform="translate(488.60,485.50) rotate(-90)" font-size="33.0" fill="#0565db" textLength="43.14" lengthAdjust="spacingAndGlyphs" stroke="#0565db" stroke-width="1.00" stroke-linejoin="round">NV</text>
<text transform="translate(635.80,503.00) rotate(-90)" font-size="33.0" fill="#e44208" textLength="76.71" lengthAdjust="spacingAndGlyphs" stroke="#e44208" stroke-width="1.00" stroke-linejoin="round">(SiII)</text>
<text transform="translate(959.20,503.00) rotate(-90)" font-size="33.0" fill="#e44208" textLength="76.71" lengthAdjust="spacingAndGlyphs" stroke="#e44208" stroke-width="1.00" stroke-linejoin="round">(SiII)</text>
<text transform="translate(1187.80,501.00) rotate(-90)" font-size="33.0" fill="#e44208" textLength="70.27" lengthAdjust="spacingAndGlyphs" stroke="#e44208" stroke-width="1.00" stroke-linejoin="round">(CII)</text>
<text transform="translate(48.50,816.00) rotate(-90)" font-size="38.7" fill="#000" textLength="23.17" lengthAdjust="spacingAndGlyphs" stroke="#000" stroke-width="0.50" stroke-linejoin="round">F</text>
<text transform="translate(34.70,1969.50) rotate(-90)" font-size="35.4" fill="#000" textLength="21.42" lengthAdjust="spacingAndGlyphs">F</text>
<text transform="translate(61.00,792.00) rotate(-90)" font-size="27.0" fill="#000" textLength="16.10" lengthAdjust="spacingAndGlyphs" stroke="#000" stroke-width="0.50" stroke-linejoin="round">λ</text>
<text transform="translate(46.15,1948.15) rotate(-90)" font-size="24.7" fill="#000" textLength="15.89" lengthAdjust="spacingAndGlyphs">λ</text>
<text transform="translate(48.50,755.50) rotate(-90)" font-size="38.7" fill="#000" textLength="69.37" lengthAdjust="spacingAndGlyphs" stroke="#000" stroke-width="0.50" stroke-linejoin="round">(10</text>
<text transform="translate(34.70,1914.16) rotate(-90)" font-size="35.4" fill="#000" textLength="63.51" lengthAdjust="spacingAndGlyphs">(10</text>
<text transform="translate(31.70,683.50) rotate(-90)" font-size="28.0" fill="#000" textLength="51.71" lengthAdjust="spacingAndGlyphs" stroke="#000" stroke-width="0.50" stroke-linejoin="round">−18</text>
<text transform="translate(19.31,1847.98) rotate(-90)" font-size="25.6" fill="#000" textLength="47.54" lengthAdjust="spacingAndGlyphs">−18</text>
<text transform="translate(48.50,612.50) rotate(-90)" font-size="38.7" fill="#000" textLength="90.54" lengthAdjust="spacingAndGlyphs" stroke="#000" stroke-width="0.50" stroke-linejoin="round">erg/</text>
<text transform="translate(34.70,1782.80) rotate(-90)" font-size="35.4" fill="#000" textLength="83.22" lengthAdjust="spacingAndGlyphs">erg/</text>
<text transform="translate(48.50,518.50) rotate(-90)" font-size="38.7" fill="#000" textLength="47.10" lengthAdjust="spacingAndGlyphs" stroke="#000" stroke-width="0.50" stroke-linejoin="round">s/</text>
<text transform="translate(34.70,1696.53) rotate(-90)" font-size="35.4" fill="#000" textLength="43.30" lengthAdjust="spacingAndGlyphs">s/</text>
<text transform="translate(48.50,466.00) rotate(-90)" font-size="38.7" fill="#000" textLength="56.33" lengthAdjust="spacingAndGlyphs" stroke="#000" stroke-width="0.50" stroke-linejoin="round">cm</text>
<text transform="translate(34.70,1648.58) rotate(-90)" font-size="35.4" fill="#000" textLength="51.46" lengthAdjust="spacingAndGlyphs">cm</text>
<text transform="translate(31.70,404.50) rotate(-90)" font-size="28.0" fill="#000" textLength="12.57" lengthAdjust="spacingAndGlyphs" stroke="#000" stroke-width="0.50" stroke-linejoin="round">2</text>
<text transform="translate(19.31,1592.57) rotate(-90)" font-size="25.6" fill="#000" textLength="12.11" lengthAdjust="spacingAndGlyphs">2</text>
<text transform="translate(48.50,390.00) rotate(-90)" font-size="38.7" fill="#000" textLength="65.64" lengthAdjust="spacingAndGlyphs" stroke="#000" stroke-width="0.50" stroke-linejoin="round">/A)</text>
<text transform="translate(34.70,1578.82) rotate(-90)" font-size="35.4" fill="#000" textLength="59.57" lengthAdjust="spacingAndGlyphs">/A)</text>
<text x="67.00" y="1405.50" font-size="36.4" fill="#000" textLength="58.87" lengthAdjust="spacingAndGlyphs">3.0</text>
<text x="67.00" y="1504.60" font-size="36.4" fill="#000" textLength="59.51" lengthAdjust="spacingAndGlyphs">2.5</text>
<text x="67.00" y="1614.40" font-size="36.4" fill="#000" textLength="58.87" lengthAdjust="spacingAndGlyphs">2.0</text>
<text x="70.50" y="1724.10" font-size="36.4" fill="#000" textLength="56.25" lengthAdjust="spacingAndGlyphs">1.5</text>
<text x="70.50" y="1834.30" font-size="36.4" fill="#000" textLength="55.57" lengthAdjust="spacingAndGlyphs">1.0</text>
<text x="67.00" y="1944.10" font-size="36.4" fill="#000" textLength="59.42" lengthAdjust="spacingAndGlyphs">0.5</text>
<text x="67.00" y="2053.80" font-size="36.4" fill="#000" textLength="59.87" lengthAdjust="spacingAndGlyphs">0.0</text>
<text x="119.50" y="2158.50" font-size="36.4" fill="#000" textLength="95.71" lengthAdjust="spacingAndGlyphs">8550</text>
<text x="286.00" y="2158.50" font-size="36.4" fill="#000" textLength="96.71" lengthAdjust="spacingAndGlyphs">8600</text>
<text x="454.50" y="2158.50" font-size="36.4" fill="#000" textLength="95.66" lengthAdjust="spacingAndGlyphs">8650</text>
<text x="620.00" y="2158.50" font-size="36.4" fill="#000" textLength="95.71" lengthAdjust="spacingAndGlyphs">8700</text>
<text x="332.00" y="2203.80" font-size="34.0" fill="#000" textLength="203.06" lengthAdjust="spacingAndGlyphs">Wavelength</text>
<text x="553.50" y="2203.80" font-size="34.0" fill="#000" textLength="55.13" lengthAdjust="spacingAndGlyphs">(A)</text>
<text transform="translate(337.30,1642.00) rotate(-90)" font-size="33.0" fill="#0565db" textLength="91.06" lengthAdjust="spacingAndGlyphs" stroke="#0565db" stroke-width="1.10" stroke-linejoin="round">fitting</text>
<text transform="translate(337.30,1529.00) rotate(-90)" font-size="33.0" fill="#0565db" textLength="114.01" lengthAdjust="spacingAndGlyphs" stroke="#0565db" stroke-width="1.10" stroke-linejoin="round">window</text>
<text x="789.50" y="2158.50" font-size="36.4" fill="#000" textLength="95.72" lengthAdjust="spacingAndGlyphs">8550</text>
<text x="956.00" y="2158.50" font-size="36.4" fill="#000" textLength="96.67" lengthAdjust="spacingAndGlyphs">8600</text>
<text x="1123.50" y="2158.50" font-size="36.4" fill="#000" textLength="96.71" lengthAdjust="spacingAndGlyphs">8650</text>
<text x="1290.00" y="2158.50" font-size="36.4" fill="#000" textLength="95.68" lengthAdjust="spacingAndGlyphs">8700</text>
<text x="1002.00" y="2203.80" font-size="34.0" fill="#000" textLength="203.05" lengthAdjust="spacingAndGlyphs">Wavelength</text>
<text x="1223.50" y="2203.80" font-size="34.0" fill="#000" textLength="54.02" lengthAdjust="spacingAndGlyphs">(A)</text>
<text transform="translate(1005.80,1642.00) rotate(-90)" font-size="33.0" fill="#0565db" textLength="91.06" lengthAdjust="spacingAndGlyphs" stroke="#0565db" stroke-width="1.10" stroke-linejoin="round">fitting</text>
<text transform="translate(1005.80,1529.00) rotate(-90)" font-size="33.0" fill="#0565db" textLength="114.01" lengthAdjust="spacingAndGlyphs" stroke="#0565db" stroke-width="1.10" stroke-linejoin="round">window</text>
<text x="407.50" y="1446.50" font-size="27.5" fill="#000" textLength="129.14" lengthAdjust="spacingAndGlyphs" stroke="#000" stroke-width="0.60" stroke-linejoin="round">FWHM(B):</text>
<text x="549.00" y="1446.50" font-size="27.5" fill="#000" textLength="140.09" lengthAdjust="spacingAndGlyphs" stroke="#000" stroke-width="0.60" stroke-linejoin="round">1450±170</text>
<text x="703.00" y="1446.50" font-size="27.5" fill="#000" textLength="75.14" lengthAdjust="spacingAndGlyphs" stroke="#000" stroke-width="0.60" stroke-linejoin="round">km/s</text>
<text x="407.50" y="1489.00" font-size="27.5" fill="#000" textLength="129.14" lengthAdjust="spacingAndGlyphs" stroke="#000" stroke-width="0.60" stroke-linejoin="round">FWHM(N):</text>
<text x="578.00" y="1489.00" font-size="27.5" fill="#000" textLength="106.06" lengthAdjust="spacingAndGlyphs" stroke="#000" stroke-width="0.60" stroke-linejoin="round">360±30</text>
<text x="697.00" y="1489.00" font-size="27.5" fill="#000" textLength="74.62" lengthAdjust="spacingAndGlyphs" stroke="#000" stroke-width="0.60" stroke-linejoin="round">km/s</text>
<text x="1094.00" y="1446.50" font-size="27.5" fill="#000" textLength="129.63" lengthAdjust="spacingAndGlyphs" stroke="#000" stroke-width="0.60" stroke-linejoin="round">FWHM(B):</text>
<text x="1234.50" y="1446.50" font-size="27.5" fill="#000" textLength="125.08" lengthAdjust="spacingAndGlyphs" stroke="#000" stroke-width="0.60" stroke-linejoin="round">1290±60</text>
<text x="1372.00" y="1446.50" font-size="27.5" fill="#000" textLength="77.19" lengthAdjust="spacingAndGlyphs" stroke="#000" stroke-width="0.60" stroke-linejoin="round">km/s</text>
</svg></body></html>
